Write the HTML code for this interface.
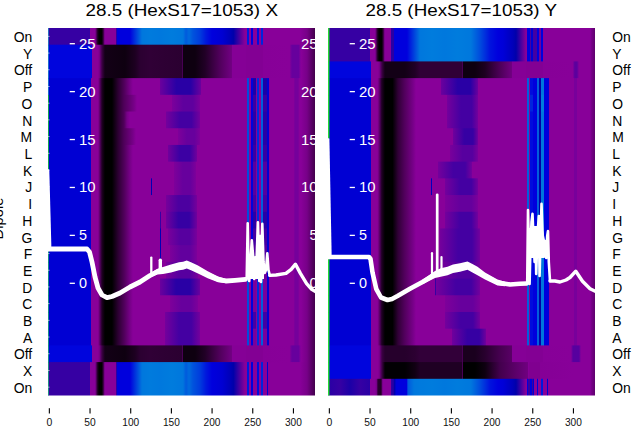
<!DOCTYPE html>
<html><head><meta charset="utf-8"><title>28.5 HexS17</title>
<style>html,body{margin:0;padding:0;background:#fff;overflow:hidden}body{width:640px;height:440px;font-family:"Liberation Sans",sans-serif}</style>
</head><body>
<svg width="640" height="440" viewBox="0 0 640 440" style="display:block;font-family:'Liberation Sans',sans-serif">
<defs><linearGradient id="g1" gradientUnits="userSpaceOnUse" x1="48.25" x2="315.00" y1="0" y2="0"><stop offset="0.0000" stop-color="#3600a3"/><stop offset="0.1554" stop-color="#3600a3"/><stop offset="0.1554" stop-color="#880099"/><stop offset="0.1734" stop-color="#880099"/><stop offset="0.1771" stop-color="#770088"/><stop offset="0.1846" stop-color="#240029"/><stop offset="0.1903" stop-color="#000000"/><stop offset="0.1996" stop-color="#000000"/><stop offset="0.2052" stop-color="#240029"/><stop offset="0.2109" stop-color="#770088"/><stop offset="0.2146" stop-color="#880099"/><stop offset="0.2540" stop-color="#880099"/><stop offset="0.2568" stop-color="#0000aa"/><stop offset="0.2596" stop-color="#0000dd"/><stop offset="0.3065" stop-color="#0000dd"/><stop offset="0.3515" stop-color="#0077dd"/><stop offset="0.3814" stop-color="#007bdd"/><stop offset="0.4189" stop-color="#0078dd"/><stop offset="0.4639" stop-color="#007cdd"/><stop offset="0.5052" stop-color="#0077dd"/><stop offset="0.5164" stop-color="#005add"/><stop offset="0.5276" stop-color="#006bdd"/><stop offset="0.5426" stop-color="#0053dd"/><stop offset="0.5689" stop-color="#003cdd"/><stop offset="0.5914" stop-color="#0018dd"/><stop offset="0.6139" stop-color="#0000dd"/><stop offset="0.6514" stop-color="#0000d3"/><stop offset="0.6813" stop-color="#0000b9"/><stop offset="0.6942" stop-color="#0000aa"/><stop offset="0.7113" stop-color="#3600a3"/><stop offset="0.7376" stop-color="#880099"/><stop offset="0.7440" stop-color="#880099"/><stop offset="0.7440" stop-color="#0018dd"/><stop offset="0.7530" stop-color="#0018dd"/><stop offset="0.7530" stop-color="#880099"/><stop offset="0.7593" stop-color="#880099"/><stop offset="0.7593" stop-color="#0000dd"/><stop offset="0.7661" stop-color="#0000dd"/><stop offset="0.7661" stop-color="#880099"/><stop offset="0.7818" stop-color="#880099"/><stop offset="0.7818" stop-color="#000cdd"/><stop offset="0.7901" stop-color="#000cdd"/><stop offset="0.7901" stop-color="#880099"/><stop offset="0.7961" stop-color="#880099"/><stop offset="0.7961" stop-color="#0024dd"/><stop offset="0.8043" stop-color="#0024dd"/><stop offset="0.8043" stop-color="#880099"/><stop offset="0.9063" stop-color="#880099"/><stop offset="0.9438" stop-color="#880099"/><stop offset="0.9700" stop-color="#770088"/><stop offset="1.0000" stop-color="#43004c"/></linearGradient><linearGradient id="g2" gradientUnits="userSpaceOnUse" x1="48.25" x2="315.00" y1="0" y2="0"><stop offset="0.0000" stop-color="#0005dd"/><stop offset="0.1640" stop-color="#0005dd"/><stop offset="0.1640" stop-color="#880099"/><stop offset="0.1865" stop-color="#880099"/><stop offset="0.1921" stop-color="#770088"/><stop offset="0.2015" stop-color="#3c0044"/><stop offset="0.2127" stop-color="#130016"/><stop offset="0.2877" stop-color="#0e0010"/><stop offset="0.3252" stop-color="#1d0021"/><stop offset="0.3440" stop-color="#2b0031"/><stop offset="0.3814" stop-color="#300036"/><stop offset="0.5003" stop-color="#2b0031"/><stop offset="0.5003" stop-color="#470052"/><stop offset="0.5040" stop-color="#470052"/><stop offset="0.5040" stop-color="#0e0010"/><stop offset="0.5501" stop-color="#0e0010"/><stop offset="0.5876" stop-color="#210026"/><stop offset="0.6439" stop-color="#51005c"/><stop offset="0.6888" stop-color="#720083"/><stop offset="0.6888" stop-color="#850096"/><stop offset="0.7413" stop-color="#850096"/><stop offset="0.7413" stop-color="#830094"/><stop offset="0.8051" stop-color="#830094"/><stop offset="0.8051" stop-color="#870098"/><stop offset="0.9044" stop-color="#880099"/><stop offset="0.9138" stop-color="#67009d"/><stop offset="0.9381" stop-color="#67009d"/><stop offset="0.9475" stop-color="#880099"/><stop offset="0.9700" stop-color="#770088"/><stop offset="1.0000" stop-color="#43004c"/></linearGradient><linearGradient id="g3" gradientUnits="userSpaceOnUse" x1="48.25" x2="315.00" y1="0" y2="0"><stop offset="0.0000" stop-color="#0000d3"/><stop offset="0.1614" stop-color="#0000d3"/><stop offset="0.1614" stop-color="#880099"/><stop offset="0.1858" stop-color="#880099"/><stop offset="0.1895" stop-color="#770088"/><stop offset="0.1951" stop-color="#4c0057"/><stop offset="0.2015" stop-color="#1f0023"/><stop offset="0.2127" stop-color="#000000"/><stop offset="0.2390" stop-color="#000000"/><stop offset="0.2615" stop-color="#2b0031"/><stop offset="0.2840" stop-color="#4f005a"/><stop offset="0.3065" stop-color="#770088"/><stop offset="0.3177" stop-color="#880099"/><stop offset="0.4189" stop-color="#880099"/><stop offset="0.4189" stop-color="#6b009d"/><stop offset="0.4804" stop-color="#2900a5"/><stop offset="0.5342" stop-color="#2900a5"/><stop offset="0.5726" stop-color="#6b009d"/><stop offset="0.5726" stop-color="#880099"/><stop offset="0.7443" stop-color="#880099"/><stop offset="0.7443" stop-color="#004cdd"/><stop offset="0.7511" stop-color="#004cdd"/><stop offset="0.7511" stop-color="#880099"/><stop offset="0.7597" stop-color="#880099"/><stop offset="0.7597" stop-color="#0000dd"/><stop offset="0.7687" stop-color="#0000dd"/><stop offset="0.7687" stop-color="#880099"/><stop offset="0.7687" stop-color="#1b00a7"/><stop offset="0.7781" stop-color="#1b00a7"/><stop offset="0.7781" stop-color="#880099"/><stop offset="0.7829" stop-color="#880099"/><stop offset="0.7829" stop-color="#002bdd"/><stop offset="0.7908" stop-color="#002bdd"/><stop offset="0.7908" stop-color="#880099"/><stop offset="0.7968" stop-color="#880099"/><stop offset="0.7968" stop-color="#005fdd"/><stop offset="0.8062" stop-color="#005fdd"/><stop offset="0.8062" stop-color="#880099"/><stop offset="0.8069" stop-color="#880099"/><stop offset="0.8069" stop-color="#1b00a7"/><stop offset="0.8193" stop-color="#1b00a7"/><stop offset="0.8193" stop-color="#880099"/><stop offset="0.8193" stop-color="#0000d3"/><stop offset="0.8268" stop-color="#0000d3"/><stop offset="0.8268" stop-color="#880099"/><stop offset="0.9194" stop-color="#880099"/><stop offset="0.9250" stop-color="#75009b"/><stop offset="0.9363" stop-color="#75009b"/><stop offset="0.9419" stop-color="#880099"/><stop offset="0.9475" stop-color="#880099"/><stop offset="0.9700" stop-color="#770088"/><stop offset="1.0000" stop-color="#43004c"/></linearGradient><linearGradient id="g4" gradientUnits="userSpaceOnUse" x1="48.25" x2="315.00" y1="0" y2="0"><stop offset="0.0000" stop-color="#0000d3"/><stop offset="0.1614" stop-color="#0000d3"/><stop offset="0.1614" stop-color="#880099"/><stop offset="0.1858" stop-color="#880099"/><stop offset="0.1895" stop-color="#770088"/><stop offset="0.1951" stop-color="#4c0057"/><stop offset="0.2015" stop-color="#1f0023"/><stop offset="0.2127" stop-color="#000000"/><stop offset="0.2390" stop-color="#000000"/><stop offset="0.2615" stop-color="#2b0031"/><stop offset="0.2840" stop-color="#4f005a"/><stop offset="0.3215" stop-color="#770088"/><stop offset="0.3327" stop-color="#880099"/><stop offset="0.4639" stop-color="#880099"/><stop offset="0.4639" stop-color="#7c009b"/><stop offset="0.5059" stop-color="#5f009e"/><stop offset="0.5426" stop-color="#5f009e"/><stop offset="0.5689" stop-color="#7c009b"/><stop offset="0.5689" stop-color="#880099"/><stop offset="0.7443" stop-color="#880099"/><stop offset="0.7443" stop-color="#004cdd"/><stop offset="0.7511" stop-color="#004cdd"/><stop offset="0.7511" stop-color="#880099"/><stop offset="0.7597" stop-color="#880099"/><stop offset="0.7597" stop-color="#0000dd"/><stop offset="0.7687" stop-color="#0000dd"/><stop offset="0.7687" stop-color="#880099"/><stop offset="0.7687" stop-color="#3600a3"/><stop offset="0.7781" stop-color="#3600a3"/><stop offset="0.7781" stop-color="#880099"/><stop offset="0.7829" stop-color="#880099"/><stop offset="0.7829" stop-color="#002bdd"/><stop offset="0.7908" stop-color="#002bdd"/><stop offset="0.7908" stop-color="#880099"/><stop offset="0.7968" stop-color="#880099"/><stop offset="0.7968" stop-color="#005fdd"/><stop offset="0.8062" stop-color="#005fdd"/><stop offset="0.8062" stop-color="#880099"/><stop offset="0.8069" stop-color="#880099"/><stop offset="0.8069" stop-color="#3600a3"/><stop offset="0.8193" stop-color="#3600a3"/><stop offset="0.8193" stop-color="#880099"/><stop offset="0.8193" stop-color="#0000d3"/><stop offset="0.8268" stop-color="#0000d3"/><stop offset="0.8268" stop-color="#880099"/><stop offset="0.9194" stop-color="#880099"/><stop offset="0.9250" stop-color="#75009b"/><stop offset="0.9363" stop-color="#75009b"/><stop offset="0.9419" stop-color="#880099"/><stop offset="0.9475" stop-color="#880099"/><stop offset="0.9700" stop-color="#770088"/><stop offset="1.0000" stop-color="#43004c"/></linearGradient><linearGradient id="g5" gradientUnits="userSpaceOnUse" x1="48.25" x2="315.00" y1="0" y2="0"><stop offset="0.0000" stop-color="#0000d3"/><stop offset="0.1614" stop-color="#0000d3"/><stop offset="0.1614" stop-color="#880099"/><stop offset="0.1858" stop-color="#880099"/><stop offset="0.1895" stop-color="#770088"/><stop offset="0.1951" stop-color="#4c0057"/><stop offset="0.2015" stop-color="#1f0023"/><stop offset="0.2127" stop-color="#000000"/><stop offset="0.2390" stop-color="#000000"/><stop offset="0.2615" stop-color="#2b0031"/><stop offset="0.2840" stop-color="#4f005a"/><stop offset="0.2952" stop-color="#770088"/><stop offset="0.3065" stop-color="#880099"/><stop offset="0.4414" stop-color="#880099"/><stop offset="0.4414" stop-color="#74009c"/><stop offset="0.4924" stop-color="#4400a2"/><stop offset="0.5370" stop-color="#4400a2"/><stop offset="0.5689" stop-color="#74009c"/><stop offset="0.5689" stop-color="#880099"/><stop offset="0.7443" stop-color="#880099"/><stop offset="0.7443" stop-color="#004cdd"/><stop offset="0.7511" stop-color="#004cdd"/><stop offset="0.7511" stop-color="#880099"/><stop offset="0.7597" stop-color="#880099"/><stop offset="0.7597" stop-color="#0000dd"/><stop offset="0.7687" stop-color="#0000dd"/><stop offset="0.7687" stop-color="#880099"/><stop offset="0.7687" stop-color="#2900a5"/><stop offset="0.7781" stop-color="#2900a5"/><stop offset="0.7781" stop-color="#880099"/><stop offset="0.7829" stop-color="#880099"/><stop offset="0.7829" stop-color="#002bdd"/><stop offset="0.7908" stop-color="#002bdd"/><stop offset="0.7908" stop-color="#880099"/><stop offset="0.7968" stop-color="#880099"/><stop offset="0.7968" stop-color="#005fdd"/><stop offset="0.8062" stop-color="#005fdd"/><stop offset="0.8062" stop-color="#880099"/><stop offset="0.8069" stop-color="#880099"/><stop offset="0.8069" stop-color="#2900a5"/><stop offset="0.8193" stop-color="#2900a5"/><stop offset="0.8193" stop-color="#880099"/><stop offset="0.8193" stop-color="#0000d3"/><stop offset="0.8268" stop-color="#0000d3"/><stop offset="0.8268" stop-color="#880099"/><stop offset="0.9194" stop-color="#880099"/><stop offset="0.9250" stop-color="#75009b"/><stop offset="0.9363" stop-color="#75009b"/><stop offset="0.9419" stop-color="#880099"/><stop offset="0.9475" stop-color="#880099"/><stop offset="0.9700" stop-color="#770088"/><stop offset="1.0000" stop-color="#43004c"/></linearGradient><linearGradient id="g6" gradientUnits="userSpaceOnUse" x1="48.25" x2="315.00" y1="0" y2="0"><stop offset="0.0000" stop-color="#0000d3"/><stop offset="0.1614" stop-color="#0000d3"/><stop offset="0.1614" stop-color="#880099"/><stop offset="0.1858" stop-color="#880099"/><stop offset="0.1895" stop-color="#770088"/><stop offset="0.1951" stop-color="#4c0057"/><stop offset="0.2015" stop-color="#1f0023"/><stop offset="0.2127" stop-color="#000000"/><stop offset="0.2390" stop-color="#000000"/><stop offset="0.2615" stop-color="#2b0031"/><stop offset="0.2840" stop-color="#4f005a"/><stop offset="0.3177" stop-color="#770088"/><stop offset="0.3290" stop-color="#880099"/><stop offset="0.4864" stop-color="#880099"/><stop offset="0.4864" stop-color="#7e009a"/><stop offset="0.5194" stop-color="#67009d"/><stop offset="0.5483" stop-color="#67009d"/><stop offset="0.5689" stop-color="#7e009a"/><stop offset="0.5689" stop-color="#880099"/><stop offset="0.7443" stop-color="#880099"/><stop offset="0.7443" stop-color="#004cdd"/><stop offset="0.7511" stop-color="#004cdd"/><stop offset="0.7511" stop-color="#880099"/><stop offset="0.7597" stop-color="#880099"/><stop offset="0.7597" stop-color="#0000dd"/><stop offset="0.7687" stop-color="#0000dd"/><stop offset="0.7687" stop-color="#880099"/><stop offset="0.7687" stop-color="#2900a5"/><stop offset="0.7781" stop-color="#2900a5"/><stop offset="0.7781" stop-color="#880099"/><stop offset="0.7829" stop-color="#880099"/><stop offset="0.7829" stop-color="#002bdd"/><stop offset="0.7908" stop-color="#002bdd"/><stop offset="0.7908" stop-color="#880099"/><stop offset="0.7968" stop-color="#880099"/><stop offset="0.7968" stop-color="#005fdd"/><stop offset="0.8062" stop-color="#005fdd"/><stop offset="0.8062" stop-color="#880099"/><stop offset="0.8069" stop-color="#880099"/><stop offset="0.8069" stop-color="#2900a5"/><stop offset="0.8193" stop-color="#2900a5"/><stop offset="0.8193" stop-color="#880099"/><stop offset="0.8193" stop-color="#0000d3"/><stop offset="0.8268" stop-color="#0000d3"/><stop offset="0.8268" stop-color="#880099"/><stop offset="0.9194" stop-color="#880099"/><stop offset="0.9250" stop-color="#75009b"/><stop offset="0.9363" stop-color="#75009b"/><stop offset="0.9419" stop-color="#880099"/><stop offset="0.9475" stop-color="#880099"/><stop offset="0.9700" stop-color="#770088"/><stop offset="1.0000" stop-color="#43004c"/></linearGradient><linearGradient id="g7" gradientUnits="userSpaceOnUse" x1="48.25" x2="315.00" y1="0" y2="0"><stop offset="0.0000" stop-color="#0000d3"/><stop offset="0.1614" stop-color="#0000d3"/><stop offset="0.1614" stop-color="#880099"/><stop offset="0.1858" stop-color="#880099"/><stop offset="0.1895" stop-color="#770088"/><stop offset="0.1951" stop-color="#4c0057"/><stop offset="0.2015" stop-color="#1f0023"/><stop offset="0.2127" stop-color="#000000"/><stop offset="0.2390" stop-color="#000000"/><stop offset="0.2615" stop-color="#2b0031"/><stop offset="0.2840" stop-color="#4f005a"/><stop offset="0.3065" stop-color="#770088"/><stop offset="0.3177" stop-color="#880099"/><stop offset="0.4489" stop-color="#880099"/><stop offset="0.4489" stop-color="#71009c"/><stop offset="0.4924" stop-color="#3c00a3"/><stop offset="0.5305" stop-color="#3c00a3"/><stop offset="0.5576" stop-color="#71009c"/><stop offset="0.5576" stop-color="#880099"/><stop offset="0.7443" stop-color="#880099"/><stop offset="0.7443" stop-color="#004cdd"/><stop offset="0.7511" stop-color="#004cdd"/><stop offset="0.7511" stop-color="#880099"/><stop offset="0.7597" stop-color="#880099"/><stop offset="0.7597" stop-color="#0000dd"/><stop offset="0.7687" stop-color="#0000dd"/><stop offset="0.7687" stop-color="#880099"/><stop offset="0.7687" stop-color="#3600a3"/><stop offset="0.7781" stop-color="#3600a3"/><stop offset="0.7781" stop-color="#880099"/><stop offset="0.7829" stop-color="#880099"/><stop offset="0.7829" stop-color="#002bdd"/><stop offset="0.7908" stop-color="#002bdd"/><stop offset="0.7908" stop-color="#880099"/><stop offset="0.7968" stop-color="#880099"/><stop offset="0.7968" stop-color="#005fdd"/><stop offset="0.8062" stop-color="#005fdd"/><stop offset="0.8062" stop-color="#880099"/><stop offset="0.8069" stop-color="#880099"/><stop offset="0.8069" stop-color="#3600a3"/><stop offset="0.8193" stop-color="#3600a3"/><stop offset="0.8193" stop-color="#880099"/><stop offset="0.8193" stop-color="#0000d3"/><stop offset="0.8268" stop-color="#0000d3"/><stop offset="0.8268" stop-color="#880099"/><stop offset="0.9194" stop-color="#880099"/><stop offset="0.9250" stop-color="#75009b"/><stop offset="0.9363" stop-color="#75009b"/><stop offset="0.9419" stop-color="#880099"/><stop offset="0.9475" stop-color="#880099"/><stop offset="0.9700" stop-color="#770088"/><stop offset="1.0000" stop-color="#43004c"/></linearGradient><linearGradient id="g8" gradientUnits="userSpaceOnUse" x1="48.25" x2="315.00" y1="0" y2="0"><stop offset="0.0000" stop-color="#0000d3"/><stop offset="0.1614" stop-color="#0000d3"/><stop offset="0.1614" stop-color="#880099"/><stop offset="0.1858" stop-color="#880099"/><stop offset="0.1895" stop-color="#770088"/><stop offset="0.1951" stop-color="#4c0057"/><stop offset="0.2015" stop-color="#1f0023"/><stop offset="0.2127" stop-color="#000000"/><stop offset="0.2390" stop-color="#000000"/><stop offset="0.2615" stop-color="#2b0031"/><stop offset="0.2840" stop-color="#4f005a"/><stop offset="0.3065" stop-color="#770088"/><stop offset="0.3177" stop-color="#880099"/><stop offset="0.4714" stop-color="#880099"/><stop offset="0.4714" stop-color="#7e009a"/><stop offset="0.5044" stop-color="#67009d"/><stop offset="0.5333" stop-color="#67009d"/><stop offset="0.5539" stop-color="#7e009a"/><stop offset="0.5539" stop-color="#880099"/><stop offset="0.7443" stop-color="#880099"/><stop offset="0.7443" stop-color="#004cdd"/><stop offset="0.7511" stop-color="#004cdd"/><stop offset="0.7511" stop-color="#880099"/><stop offset="0.7597" stop-color="#880099"/><stop offset="0.7597" stop-color="#0000dd"/><stop offset="0.7687" stop-color="#0000dd"/><stop offset="0.7687" stop-color="#880099"/><stop offset="0.7687" stop-color="#57009f"/><stop offset="0.7781" stop-color="#57009f"/><stop offset="0.7781" stop-color="#880099"/><stop offset="0.7829" stop-color="#880099"/><stop offset="0.7829" stop-color="#002bdd"/><stop offset="0.7908" stop-color="#002bdd"/><stop offset="0.7908" stop-color="#880099"/><stop offset="0.7968" stop-color="#880099"/><stop offset="0.7968" stop-color="#005fdd"/><stop offset="0.8062" stop-color="#005fdd"/><stop offset="0.8062" stop-color="#880099"/><stop offset="0.8069" stop-color="#880099"/><stop offset="0.8069" stop-color="#57009f"/><stop offset="0.8193" stop-color="#57009f"/><stop offset="0.8193" stop-color="#880099"/><stop offset="0.8193" stop-color="#0000d3"/><stop offset="0.8268" stop-color="#0000d3"/><stop offset="0.8268" stop-color="#880099"/><stop offset="0.9194" stop-color="#880099"/><stop offset="0.9250" stop-color="#75009b"/><stop offset="0.9363" stop-color="#75009b"/><stop offset="0.9419" stop-color="#880099"/><stop offset="0.9475" stop-color="#880099"/><stop offset="0.9700" stop-color="#770088"/><stop offset="1.0000" stop-color="#43004c"/></linearGradient><linearGradient id="g9" gradientUnits="userSpaceOnUse" x1="48.25" x2="315.00" y1="0" y2="0"><stop offset="0.0000" stop-color="#0000d3"/><stop offset="0.1614" stop-color="#0000d3"/><stop offset="0.1614" stop-color="#880099"/><stop offset="0.1858" stop-color="#880099"/><stop offset="0.1895" stop-color="#770088"/><stop offset="0.1951" stop-color="#4c0057"/><stop offset="0.2015" stop-color="#1f0023"/><stop offset="0.2127" stop-color="#000000"/><stop offset="0.2390" stop-color="#000000"/><stop offset="0.2615" stop-color="#2b0031"/><stop offset="0.2840" stop-color="#4f005a"/><stop offset="0.3065" stop-color="#770088"/><stop offset="0.3177" stop-color="#880099"/><stop offset="0.3852" stop-color="#880099"/><stop offset="0.3852" stop-color="#0000b4"/><stop offset="0.3897" stop-color="#0000b4"/><stop offset="0.3897" stop-color="#880099"/><stop offset="0.4714" stop-color="#880099"/><stop offset="0.4714" stop-color="#7e009a"/><stop offset="0.5044" stop-color="#67009d"/><stop offset="0.5333" stop-color="#67009d"/><stop offset="0.5539" stop-color="#7e009a"/><stop offset="0.5539" stop-color="#880099"/><stop offset="0.7443" stop-color="#880099"/><stop offset="0.7443" stop-color="#004cdd"/><stop offset="0.7511" stop-color="#004cdd"/><stop offset="0.7511" stop-color="#880099"/><stop offset="0.7597" stop-color="#880099"/><stop offset="0.7597" stop-color="#0000dd"/><stop offset="0.7687" stop-color="#0000dd"/><stop offset="0.7687" stop-color="#880099"/><stop offset="0.7687" stop-color="#57009f"/><stop offset="0.7781" stop-color="#57009f"/><stop offset="0.7781" stop-color="#880099"/><stop offset="0.7829" stop-color="#880099"/><stop offset="0.7829" stop-color="#002bdd"/><stop offset="0.7908" stop-color="#002bdd"/><stop offset="0.7908" stop-color="#880099"/><stop offset="0.7968" stop-color="#880099"/><stop offset="0.7968" stop-color="#005fdd"/><stop offset="0.8062" stop-color="#005fdd"/><stop offset="0.8062" stop-color="#880099"/><stop offset="0.8069" stop-color="#880099"/><stop offset="0.8069" stop-color="#57009f"/><stop offset="0.8193" stop-color="#57009f"/><stop offset="0.8193" stop-color="#880099"/><stop offset="0.8193" stop-color="#0000d3"/><stop offset="0.8268" stop-color="#0000d3"/><stop offset="0.8268" stop-color="#880099"/><stop offset="0.9194" stop-color="#880099"/><stop offset="0.9250" stop-color="#75009b"/><stop offset="0.9363" stop-color="#75009b"/><stop offset="0.9419" stop-color="#880099"/><stop offset="0.9475" stop-color="#880099"/><stop offset="0.9700" stop-color="#770088"/><stop offset="1.0000" stop-color="#43004c"/></linearGradient><linearGradient id="g10" gradientUnits="userSpaceOnUse" x1="48.25" x2="315.00" y1="0" y2="0"><stop offset="0.0000" stop-color="#0000d3"/><stop offset="0.1614" stop-color="#0000d3"/><stop offset="0.1614" stop-color="#880099"/><stop offset="0.1858" stop-color="#880099"/><stop offset="0.1895" stop-color="#770088"/><stop offset="0.1951" stop-color="#4c0057"/><stop offset="0.2015" stop-color="#1f0023"/><stop offset="0.2127" stop-color="#000000"/><stop offset="0.2390" stop-color="#000000"/><stop offset="0.2615" stop-color="#2b0031"/><stop offset="0.2840" stop-color="#4f005a"/><stop offset="0.3065" stop-color="#770088"/><stop offset="0.3177" stop-color="#880099"/><stop offset="0.4414" stop-color="#880099"/><stop offset="0.4414" stop-color="#76009b"/><stop offset="0.4879" stop-color="#4c00a0"/><stop offset="0.5286" stop-color="#4c00a0"/><stop offset="0.5576" stop-color="#76009b"/><stop offset="0.5576" stop-color="#880099"/><stop offset="0.7443" stop-color="#880099"/><stop offset="0.7443" stop-color="#004cdd"/><stop offset="0.7511" stop-color="#004cdd"/><stop offset="0.7511" stop-color="#880099"/><stop offset="0.7597" stop-color="#880099"/><stop offset="0.7597" stop-color="#0000dd"/><stop offset="0.7687" stop-color="#0000dd"/><stop offset="0.7687" stop-color="#880099"/><stop offset="0.7687" stop-color="#4400a2"/><stop offset="0.7781" stop-color="#4400a2"/><stop offset="0.7781" stop-color="#880099"/><stop offset="0.7829" stop-color="#880099"/><stop offset="0.7829" stop-color="#002bdd"/><stop offset="0.7908" stop-color="#002bdd"/><stop offset="0.7908" stop-color="#880099"/><stop offset="0.7968" stop-color="#880099"/><stop offset="0.7968" stop-color="#005fdd"/><stop offset="0.8062" stop-color="#005fdd"/><stop offset="0.8062" stop-color="#880099"/><stop offset="0.8069" stop-color="#880099"/><stop offset="0.8069" stop-color="#4400a2"/><stop offset="0.8193" stop-color="#4400a2"/><stop offset="0.8193" stop-color="#880099"/><stop offset="0.8193" stop-color="#0000d3"/><stop offset="0.8268" stop-color="#0000d3"/><stop offset="0.8268" stop-color="#880099"/><stop offset="0.9194" stop-color="#880099"/><stop offset="0.9250" stop-color="#75009b"/><stop offset="0.9363" stop-color="#75009b"/><stop offset="0.9419" stop-color="#880099"/><stop offset="0.9475" stop-color="#880099"/><stop offset="0.9700" stop-color="#770088"/><stop offset="1.0000" stop-color="#43004c"/></linearGradient><linearGradient id="g11" gradientUnits="userSpaceOnUse" x1="48.25" x2="315.00" y1="0" y2="0"><stop offset="0.0000" stop-color="#0000d3"/><stop offset="0.1614" stop-color="#0000d3"/><stop offset="0.1614" stop-color="#880099"/><stop offset="0.1858" stop-color="#880099"/><stop offset="0.1895" stop-color="#770088"/><stop offset="0.1951" stop-color="#4c0057"/><stop offset="0.2015" stop-color="#1f0023"/><stop offset="0.2127" stop-color="#000000"/><stop offset="0.2390" stop-color="#000000"/><stop offset="0.2615" stop-color="#2b0031"/><stop offset="0.2840" stop-color="#4f005a"/><stop offset="0.3065" stop-color="#770088"/><stop offset="0.3177" stop-color="#880099"/><stop offset="0.4189" stop-color="#880099"/><stop offset="0.4189" stop-color="#3600a3"/><stop offset="0.4234" stop-color="#3600a3"/><stop offset="0.4234" stop-color="#880099"/><stop offset="0.4414" stop-color="#880099"/><stop offset="0.4414" stop-color="#70009c"/><stop offset="0.4879" stop-color="#3600a3"/><stop offset="0.5286" stop-color="#3600a3"/><stop offset="0.5576" stop-color="#70009c"/><stop offset="0.5576" stop-color="#880099"/><stop offset="0.7443" stop-color="#880099"/><stop offset="0.7443" stop-color="#004cdd"/><stop offset="0.7511" stop-color="#004cdd"/><stop offset="0.7511" stop-color="#880099"/><stop offset="0.7597" stop-color="#880099"/><stop offset="0.7597" stop-color="#0000dd"/><stop offset="0.7687" stop-color="#0000dd"/><stop offset="0.7687" stop-color="#880099"/><stop offset="0.7687" stop-color="#2900a5"/><stop offset="0.7781" stop-color="#2900a5"/><stop offset="0.7781" stop-color="#880099"/><stop offset="0.7829" stop-color="#880099"/><stop offset="0.7829" stop-color="#002bdd"/><stop offset="0.7908" stop-color="#002bdd"/><stop offset="0.7908" stop-color="#880099"/><stop offset="0.7968" stop-color="#880099"/><stop offset="0.7968" stop-color="#005fdd"/><stop offset="0.8062" stop-color="#005fdd"/><stop offset="0.8062" stop-color="#880099"/><stop offset="0.8069" stop-color="#880099"/><stop offset="0.8069" stop-color="#2900a5"/><stop offset="0.8193" stop-color="#2900a5"/><stop offset="0.8193" stop-color="#880099"/><stop offset="0.8193" stop-color="#0000d3"/><stop offset="0.8268" stop-color="#0000d3"/><stop offset="0.8268" stop-color="#880099"/><stop offset="0.9194" stop-color="#880099"/><stop offset="0.9250" stop-color="#75009b"/><stop offset="0.9363" stop-color="#75009b"/><stop offset="0.9419" stop-color="#880099"/><stop offset="0.9475" stop-color="#880099"/><stop offset="0.9700" stop-color="#770088"/><stop offset="1.0000" stop-color="#43004c"/></linearGradient><linearGradient id="g12" gradientUnits="userSpaceOnUse" x1="48.25" x2="315.00" y1="0" y2="0"><stop offset="0.0000" stop-color="#0000d3"/><stop offset="0.1614" stop-color="#0000d3"/><stop offset="0.1614" stop-color="#880099"/><stop offset="0.1858" stop-color="#880099"/><stop offset="0.1895" stop-color="#770088"/><stop offset="0.1951" stop-color="#4c0057"/><stop offset="0.2015" stop-color="#1f0023"/><stop offset="0.2127" stop-color="#000000"/><stop offset="0.2390" stop-color="#000000"/><stop offset="0.2615" stop-color="#2b0031"/><stop offset="0.2840" stop-color="#4f005a"/><stop offset="0.3065" stop-color="#770088"/><stop offset="0.3177" stop-color="#880099"/><stop offset="0.4189" stop-color="#880099"/><stop offset="0.4189" stop-color="#0000b4"/><stop offset="0.4234" stop-color="#0000b4"/><stop offset="0.4234" stop-color="#880099"/><stop offset="0.4489" stop-color="#880099"/><stop offset="0.4489" stop-color="#79009b"/><stop offset="0.4924" stop-color="#57009f"/><stop offset="0.5305" stop-color="#57009f"/><stop offset="0.5576" stop-color="#79009b"/><stop offset="0.5576" stop-color="#880099"/><stop offset="0.7443" stop-color="#880099"/><stop offset="0.7443" stop-color="#004cdd"/><stop offset="0.7511" stop-color="#004cdd"/><stop offset="0.7511" stop-color="#880099"/><stop offset="0.7597" stop-color="#880099"/><stop offset="0.7597" stop-color="#0000dd"/><stop offset="0.7687" stop-color="#0000dd"/><stop offset="0.7687" stop-color="#880099"/><stop offset="0.7687" stop-color="#4400a2"/><stop offset="0.7781" stop-color="#4400a2"/><stop offset="0.7781" stop-color="#880099"/><stop offset="0.7829" stop-color="#880099"/><stop offset="0.7829" stop-color="#002bdd"/><stop offset="0.7908" stop-color="#002bdd"/><stop offset="0.7908" stop-color="#880099"/><stop offset="0.7968" stop-color="#880099"/><stop offset="0.7968" stop-color="#005fdd"/><stop offset="0.8062" stop-color="#005fdd"/><stop offset="0.8062" stop-color="#880099"/><stop offset="0.8069" stop-color="#880099"/><stop offset="0.8069" stop-color="#4400a2"/><stop offset="0.8193" stop-color="#4400a2"/><stop offset="0.8193" stop-color="#880099"/><stop offset="0.8193" stop-color="#0000d3"/><stop offset="0.8268" stop-color="#0000d3"/><stop offset="0.8268" stop-color="#880099"/><stop offset="0.9194" stop-color="#880099"/><stop offset="0.9250" stop-color="#75009b"/><stop offset="0.9363" stop-color="#75009b"/><stop offset="0.9419" stop-color="#880099"/><stop offset="0.9475" stop-color="#880099"/><stop offset="0.9700" stop-color="#770088"/><stop offset="1.0000" stop-color="#43004c"/></linearGradient><linearGradient id="g13" gradientUnits="userSpaceOnUse" x1="48.25" x2="315.00" y1="0" y2="0"><stop offset="0.0000" stop-color="#0000d3"/><stop offset="0.1614" stop-color="#0000d3"/><stop offset="0.1614" stop-color="#880099"/><stop offset="0.1858" stop-color="#880099"/><stop offset="0.1895" stop-color="#770088"/><stop offset="0.1951" stop-color="#4c0057"/><stop offset="0.2015" stop-color="#1f0023"/><stop offset="0.2127" stop-color="#000000"/><stop offset="0.2390" stop-color="#000000"/><stop offset="0.2615" stop-color="#2b0031"/><stop offset="0.2840" stop-color="#4f005a"/><stop offset="0.3065" stop-color="#770088"/><stop offset="0.3177" stop-color="#880099"/><stop offset="0.4189" stop-color="#880099"/><stop offset="0.4189" stop-color="#0000b4"/><stop offset="0.4234" stop-color="#0000b4"/><stop offset="0.4234" stop-color="#880099"/><stop offset="0.4564" stop-color="#880099"/><stop offset="0.4564" stop-color="#7d009a"/><stop offset="0.4969" stop-color="#62009e"/><stop offset="0.5323" stop-color="#62009e"/><stop offset="0.5576" stop-color="#7d009a"/><stop offset="0.5576" stop-color="#880099"/><stop offset="0.7443" stop-color="#880099"/><stop offset="0.7443" stop-color="#004cdd"/><stop offset="0.7511" stop-color="#004cdd"/><stop offset="0.7511" stop-color="#880099"/><stop offset="0.7597" stop-color="#880099"/><stop offset="0.7597" stop-color="#0000dd"/><stop offset="0.7687" stop-color="#0000dd"/><stop offset="0.7687" stop-color="#880099"/><stop offset="0.7687" stop-color="#5200a0"/><stop offset="0.7781" stop-color="#5200a0"/><stop offset="0.7781" stop-color="#880099"/><stop offset="0.7829" stop-color="#880099"/><stop offset="0.7829" stop-color="#002bdd"/><stop offset="0.7908" stop-color="#002bdd"/><stop offset="0.7908" stop-color="#880099"/><stop offset="0.7968" stop-color="#880099"/><stop offset="0.7968" stop-color="#005fdd"/><stop offset="0.8062" stop-color="#005fdd"/><stop offset="0.8062" stop-color="#880099"/><stop offset="0.8069" stop-color="#880099"/><stop offset="0.8069" stop-color="#5200a0"/><stop offset="0.8193" stop-color="#5200a0"/><stop offset="0.8193" stop-color="#880099"/><stop offset="0.8193" stop-color="#0000d3"/><stop offset="0.8268" stop-color="#0000d3"/><stop offset="0.8268" stop-color="#880099"/><stop offset="0.9194" stop-color="#880099"/><stop offset="0.9250" stop-color="#75009b"/><stop offset="0.9363" stop-color="#75009b"/><stop offset="0.9419" stop-color="#880099"/><stop offset="0.9475" stop-color="#880099"/><stop offset="0.9700" stop-color="#770088"/><stop offset="1.0000" stop-color="#43004c"/></linearGradient><linearGradient id="g14" gradientUnits="userSpaceOnUse" x1="48.25" x2="315.00" y1="0" y2="0"><stop offset="0.0000" stop-color="#0000d3"/><stop offset="0.1614" stop-color="#0000d3"/><stop offset="0.1614" stop-color="#880099"/><stop offset="0.1858" stop-color="#880099"/><stop offset="0.1895" stop-color="#770088"/><stop offset="0.1951" stop-color="#4c0057"/><stop offset="0.2015" stop-color="#1f0023"/><stop offset="0.2127" stop-color="#000000"/><stop offset="0.2390" stop-color="#000000"/><stop offset="0.2615" stop-color="#2b0031"/><stop offset="0.2840" stop-color="#4f005a"/><stop offset="0.3065" stop-color="#770088"/><stop offset="0.3177" stop-color="#880099"/><stop offset="0.4414" stop-color="#880099"/><stop offset="0.4414" stop-color="#79009b"/><stop offset="0.4894" stop-color="#57009f"/><stop offset="0.5314" stop-color="#57009f"/><stop offset="0.5614" stop-color="#79009b"/><stop offset="0.5614" stop-color="#880099"/><stop offset="0.7443" stop-color="#880099"/><stop offset="0.7443" stop-color="#004cdd"/><stop offset="0.7511" stop-color="#004cdd"/><stop offset="0.7511" stop-color="#880099"/><stop offset="0.7597" stop-color="#880099"/><stop offset="0.7597" stop-color="#0000dd"/><stop offset="0.7687" stop-color="#0000dd"/><stop offset="0.7687" stop-color="#880099"/><stop offset="0.7687" stop-color="#6d009c"/><stop offset="0.7781" stop-color="#6d009c"/><stop offset="0.7781" stop-color="#880099"/><stop offset="0.7829" stop-color="#880099"/><stop offset="0.7829" stop-color="#002bdd"/><stop offset="0.7908" stop-color="#002bdd"/><stop offset="0.7908" stop-color="#880099"/><stop offset="0.7968" stop-color="#880099"/><stop offset="0.7968" stop-color="#005fdd"/><stop offset="0.8062" stop-color="#005fdd"/><stop offset="0.8062" stop-color="#880099"/><stop offset="0.8069" stop-color="#880099"/><stop offset="0.8069" stop-color="#6d009c"/><stop offset="0.8193" stop-color="#6d009c"/><stop offset="0.8193" stop-color="#880099"/><stop offset="0.8193" stop-color="#0000d3"/><stop offset="0.8268" stop-color="#0000d3"/><stop offset="0.8268" stop-color="#880099"/><stop offset="0.9194" stop-color="#880099"/><stop offset="0.9250" stop-color="#75009b"/><stop offset="0.9363" stop-color="#75009b"/><stop offset="0.9419" stop-color="#880099"/><stop offset="0.9475" stop-color="#880099"/><stop offset="0.9700" stop-color="#770088"/><stop offset="1.0000" stop-color="#43004c"/></linearGradient><linearGradient id="g15" gradientUnits="userSpaceOnUse" x1="48.25" x2="315.00" y1="0" y2="0"><stop offset="0.0000" stop-color="#0000d3"/><stop offset="0.1614" stop-color="#0000d3"/><stop offset="0.1614" stop-color="#880099"/><stop offset="0.1858" stop-color="#880099"/><stop offset="0.1895" stop-color="#770088"/><stop offset="0.1951" stop-color="#4c0057"/><stop offset="0.2015" stop-color="#1f0023"/><stop offset="0.2127" stop-color="#000000"/><stop offset="0.2390" stop-color="#000000"/><stop offset="0.2615" stop-color="#2b0031"/><stop offset="0.2840" stop-color="#4f005a"/><stop offset="0.3065" stop-color="#770088"/><stop offset="0.3177" stop-color="#880099"/><stop offset="0.4189" stop-color="#880099"/><stop offset="0.4189" stop-color="#6b009d"/><stop offset="0.4789" stop-color="#2900a5"/><stop offset="0.5314" stop-color="#2900a5"/><stop offset="0.5689" stop-color="#6b009d"/><stop offset="0.5689" stop-color="#880099"/><stop offset="0.7443" stop-color="#880099"/><stop offset="0.7443" stop-color="#004cdd"/><stop offset="0.7511" stop-color="#004cdd"/><stop offset="0.7511" stop-color="#880099"/><stop offset="0.7597" stop-color="#880099"/><stop offset="0.7597" stop-color="#0000dd"/><stop offset="0.7687" stop-color="#0000dd"/><stop offset="0.7687" stop-color="#880099"/><stop offset="0.7687" stop-color="#7a009b"/><stop offset="0.7781" stop-color="#7a009b"/><stop offset="0.7781" stop-color="#880099"/><stop offset="0.7829" stop-color="#880099"/><stop offset="0.7829" stop-color="#002bdd"/><stop offset="0.7908" stop-color="#002bdd"/><stop offset="0.7908" stop-color="#880099"/><stop offset="0.7968" stop-color="#880099"/><stop offset="0.7968" stop-color="#005fdd"/><stop offset="0.8062" stop-color="#005fdd"/><stop offset="0.8062" stop-color="#880099"/><stop offset="0.8069" stop-color="#880099"/><stop offset="0.8069" stop-color="#7a009b"/><stop offset="0.8193" stop-color="#7a009b"/><stop offset="0.8193" stop-color="#880099"/><stop offset="0.8193" stop-color="#0000d3"/><stop offset="0.8268" stop-color="#0000d3"/><stop offset="0.8268" stop-color="#880099"/><stop offset="0.9194" stop-color="#880099"/><stop offset="0.9250" stop-color="#75009b"/><stop offset="0.9363" stop-color="#75009b"/><stop offset="0.9419" stop-color="#880099"/><stop offset="0.9475" stop-color="#880099"/><stop offset="0.9700" stop-color="#770088"/><stop offset="1.0000" stop-color="#43004c"/></linearGradient><linearGradient id="g16" gradientUnits="userSpaceOnUse" x1="48.25" x2="315.00" y1="0" y2="0"><stop offset="0.0000" stop-color="#0000d3"/><stop offset="0.1614" stop-color="#0000d3"/><stop offset="0.1614" stop-color="#880099"/><stop offset="0.1858" stop-color="#880099"/><stop offset="0.1895" stop-color="#770088"/><stop offset="0.1951" stop-color="#4c0057"/><stop offset="0.2015" stop-color="#1f0023"/><stop offset="0.2127" stop-color="#000000"/><stop offset="0.2390" stop-color="#000000"/><stop offset="0.2615" stop-color="#2b0031"/><stop offset="0.2840" stop-color="#4f005a"/><stop offset="0.3065" stop-color="#770088"/><stop offset="0.3177" stop-color="#880099"/><stop offset="0.4564" stop-color="#880099"/><stop offset="0.4564" stop-color="#7e009a"/><stop offset="0.4984" stop-color="#67009d"/><stop offset="0.5351" stop-color="#67009d"/><stop offset="0.5614" stop-color="#7e009a"/><stop offset="0.5614" stop-color="#880099"/><stop offset="0.7443" stop-color="#880099"/><stop offset="0.7443" stop-color="#004cdd"/><stop offset="0.7511" stop-color="#004cdd"/><stop offset="0.7511" stop-color="#880099"/><stop offset="0.7597" stop-color="#880099"/><stop offset="0.7597" stop-color="#0000dd"/><stop offset="0.7687" stop-color="#0000dd"/><stop offset="0.7687" stop-color="#880099"/><stop offset="0.7687" stop-color="#7a009b"/><stop offset="0.7781" stop-color="#7a009b"/><stop offset="0.7781" stop-color="#880099"/><stop offset="0.7829" stop-color="#880099"/><stop offset="0.7829" stop-color="#002bdd"/><stop offset="0.7908" stop-color="#002bdd"/><stop offset="0.7908" stop-color="#880099"/><stop offset="0.7968" stop-color="#880099"/><stop offset="0.7968" stop-color="#005fdd"/><stop offset="0.8062" stop-color="#005fdd"/><stop offset="0.8062" stop-color="#880099"/><stop offset="0.8069" stop-color="#880099"/><stop offset="0.8069" stop-color="#7a009b"/><stop offset="0.8193" stop-color="#7a009b"/><stop offset="0.8193" stop-color="#880099"/><stop offset="0.8193" stop-color="#0000d3"/><stop offset="0.8268" stop-color="#0000d3"/><stop offset="0.8268" stop-color="#880099"/><stop offset="0.9194" stop-color="#880099"/><stop offset="0.9250" stop-color="#75009b"/><stop offset="0.9363" stop-color="#75009b"/><stop offset="0.9419" stop-color="#880099"/><stop offset="0.9475" stop-color="#880099"/><stop offset="0.9700" stop-color="#770088"/><stop offset="1.0000" stop-color="#43004c"/></linearGradient><linearGradient id="g17" gradientUnits="userSpaceOnUse" x1="48.25" x2="315.00" y1="0" y2="0"><stop offset="0.0000" stop-color="#0000d3"/><stop offset="0.1614" stop-color="#0000d3"/><stop offset="0.1614" stop-color="#880099"/><stop offset="0.1858" stop-color="#880099"/><stop offset="0.1895" stop-color="#770088"/><stop offset="0.1951" stop-color="#4c0057"/><stop offset="0.2015" stop-color="#1f0023"/><stop offset="0.2127" stop-color="#000000"/><stop offset="0.2390" stop-color="#000000"/><stop offset="0.2615" stop-color="#2b0031"/><stop offset="0.2840" stop-color="#4f005a"/><stop offset="0.3065" stop-color="#770088"/><stop offset="0.3177" stop-color="#880099"/><stop offset="0.4377" stop-color="#880099"/><stop offset="0.4377" stop-color="#74009c"/><stop offset="0.4902" stop-color="#4400a2"/><stop offset="0.5361" stop-color="#4400a2"/><stop offset="0.5689" stop-color="#74009c"/><stop offset="0.5689" stop-color="#880099"/><stop offset="0.7443" stop-color="#880099"/><stop offset="0.7443" stop-color="#004cdd"/><stop offset="0.7511" stop-color="#004cdd"/><stop offset="0.7511" stop-color="#880099"/><stop offset="0.7597" stop-color="#880099"/><stop offset="0.7597" stop-color="#0000dd"/><stop offset="0.7687" stop-color="#0000dd"/><stop offset="0.7687" stop-color="#880099"/><stop offset="0.7687" stop-color="#4400a2"/><stop offset="0.7781" stop-color="#4400a2"/><stop offset="0.7781" stop-color="#880099"/><stop offset="0.7829" stop-color="#880099"/><stop offset="0.7829" stop-color="#002bdd"/><stop offset="0.7908" stop-color="#002bdd"/><stop offset="0.7908" stop-color="#880099"/><stop offset="0.7968" stop-color="#880099"/><stop offset="0.7968" stop-color="#005fdd"/><stop offset="0.8062" stop-color="#005fdd"/><stop offset="0.8062" stop-color="#880099"/><stop offset="0.8069" stop-color="#880099"/><stop offset="0.8069" stop-color="#4400a2"/><stop offset="0.8193" stop-color="#4400a2"/><stop offset="0.8193" stop-color="#880099"/><stop offset="0.8193" stop-color="#0000d3"/><stop offset="0.8268" stop-color="#0000d3"/><stop offset="0.8268" stop-color="#880099"/><stop offset="0.9194" stop-color="#880099"/><stop offset="0.9250" stop-color="#75009b"/><stop offset="0.9363" stop-color="#75009b"/><stop offset="0.9419" stop-color="#880099"/><stop offset="0.9475" stop-color="#880099"/><stop offset="0.9700" stop-color="#770088"/><stop offset="1.0000" stop-color="#43004c"/></linearGradient><linearGradient id="g18" gradientUnits="userSpaceOnUse" x1="48.25" x2="315.00" y1="0" y2="0"><stop offset="0.0000" stop-color="#0000d3"/><stop offset="0.1614" stop-color="#0000d3"/><stop offset="0.1614" stop-color="#880099"/><stop offset="0.1858" stop-color="#880099"/><stop offset="0.1895" stop-color="#770088"/><stop offset="0.1951" stop-color="#4c0057"/><stop offset="0.2015" stop-color="#1f0023"/><stop offset="0.2127" stop-color="#000000"/><stop offset="0.2390" stop-color="#000000"/><stop offset="0.2615" stop-color="#2b0031"/><stop offset="0.2840" stop-color="#4f005a"/><stop offset="0.3065" stop-color="#770088"/><stop offset="0.3177" stop-color="#880099"/><stop offset="0.4377" stop-color="#880099"/><stop offset="0.4377" stop-color="#74009c"/><stop offset="0.4902" stop-color="#4400a2"/><stop offset="0.5361" stop-color="#4400a2"/><stop offset="0.5689" stop-color="#74009c"/><stop offset="0.5689" stop-color="#880099"/><stop offset="0.7443" stop-color="#880099"/><stop offset="0.7443" stop-color="#004cdd"/><stop offset="0.7511" stop-color="#004cdd"/><stop offset="0.7511" stop-color="#880099"/><stop offset="0.7597" stop-color="#880099"/><stop offset="0.7597" stop-color="#0000dd"/><stop offset="0.7687" stop-color="#0000dd"/><stop offset="0.7687" stop-color="#880099"/><stop offset="0.7687" stop-color="#7a009b"/><stop offset="0.7781" stop-color="#7a009b"/><stop offset="0.7781" stop-color="#880099"/><stop offset="0.7829" stop-color="#880099"/><stop offset="0.7829" stop-color="#002bdd"/><stop offset="0.7908" stop-color="#002bdd"/><stop offset="0.7908" stop-color="#880099"/><stop offset="0.7968" stop-color="#880099"/><stop offset="0.7968" stop-color="#005fdd"/><stop offset="0.8062" stop-color="#005fdd"/><stop offset="0.8062" stop-color="#880099"/><stop offset="0.8069" stop-color="#880099"/><stop offset="0.8069" stop-color="#7a009b"/><stop offset="0.8193" stop-color="#7a009b"/><stop offset="0.8193" stop-color="#880099"/><stop offset="0.8193" stop-color="#0000d3"/><stop offset="0.8268" stop-color="#0000d3"/><stop offset="0.8268" stop-color="#880099"/><stop offset="0.9194" stop-color="#880099"/><stop offset="0.9250" stop-color="#75009b"/><stop offset="0.9363" stop-color="#75009b"/><stop offset="0.9419" stop-color="#880099"/><stop offset="0.9475" stop-color="#880099"/><stop offset="0.9700" stop-color="#770088"/><stop offset="1.0000" stop-color="#43004c"/></linearGradient><linearGradient id="g19" gradientUnits="userSpaceOnUse" x1="48.25" x2="315.00" y1="0" y2="0"><stop offset="0.0000" stop-color="#0005dd"/><stop offset="0.1640" stop-color="#0005dd"/><stop offset="0.1640" stop-color="#880099"/><stop offset="0.1865" stop-color="#880099"/><stop offset="0.1921" stop-color="#770088"/><stop offset="0.2015" stop-color="#3c0044"/><stop offset="0.2127" stop-color="#130016"/><stop offset="0.2877" stop-color="#0e0010"/><stop offset="0.3252" stop-color="#1d0021"/><stop offset="0.3440" stop-color="#2b0031"/><stop offset="0.3814" stop-color="#300036"/><stop offset="0.5003" stop-color="#2b0031"/><stop offset="0.5003" stop-color="#470052"/><stop offset="0.5040" stop-color="#470052"/><stop offset="0.5040" stop-color="#0e0010"/><stop offset="0.5501" stop-color="#0e0010"/><stop offset="0.5876" stop-color="#210026"/><stop offset="0.6439" stop-color="#51005c"/><stop offset="0.6888" stop-color="#720083"/><stop offset="0.6888" stop-color="#850096"/><stop offset="0.7413" stop-color="#850096"/><stop offset="0.7413" stop-color="#830094"/><stop offset="0.8051" stop-color="#830094"/><stop offset="0.8051" stop-color="#870098"/><stop offset="0.9044" stop-color="#880099"/><stop offset="0.9138" stop-color="#67009d"/><stop offset="0.9381" stop-color="#67009d"/><stop offset="0.9475" stop-color="#880099"/><stop offset="0.9700" stop-color="#770088"/><stop offset="1.0000" stop-color="#43004c"/></linearGradient><linearGradient id="g20" gradientUnits="userSpaceOnUse" x1="48.25" x2="315.00" y1="0" y2="0"><stop offset="0.0000" stop-color="#3600a3"/><stop offset="0.1554" stop-color="#3600a3"/><stop offset="0.1554" stop-color="#880099"/><stop offset="0.1734" stop-color="#880099"/><stop offset="0.1771" stop-color="#770088"/><stop offset="0.1846" stop-color="#240029"/><stop offset="0.1903" stop-color="#000000"/><stop offset="0.1996" stop-color="#000000"/><stop offset="0.2052" stop-color="#240029"/><stop offset="0.2109" stop-color="#770088"/><stop offset="0.2146" stop-color="#880099"/><stop offset="0.2540" stop-color="#880099"/><stop offset="0.2568" stop-color="#0000aa"/><stop offset="0.2596" stop-color="#0000dd"/><stop offset="0.3065" stop-color="#0000dd"/><stop offset="0.3515" stop-color="#0077dd"/><stop offset="0.3814" stop-color="#007bdd"/><stop offset="0.4189" stop-color="#0078dd"/><stop offset="0.4639" stop-color="#007cdd"/><stop offset="0.5052" stop-color="#0077dd"/><stop offset="0.5164" stop-color="#005add"/><stop offset="0.5276" stop-color="#006bdd"/><stop offset="0.5426" stop-color="#0053dd"/><stop offset="0.5689" stop-color="#003cdd"/><stop offset="0.5914" stop-color="#0018dd"/><stop offset="0.6139" stop-color="#0000dd"/><stop offset="0.6514" stop-color="#0000d3"/><stop offset="0.6813" stop-color="#0000b9"/><stop offset="0.6942" stop-color="#0000aa"/><stop offset="0.7113" stop-color="#3600a3"/><stop offset="0.7376" stop-color="#880099"/><stop offset="0.7440" stop-color="#880099"/><stop offset="0.7440" stop-color="#0018dd"/><stop offset="0.7530" stop-color="#0018dd"/><stop offset="0.7530" stop-color="#880099"/><stop offset="0.7593" stop-color="#880099"/><stop offset="0.7593" stop-color="#0000dd"/><stop offset="0.7661" stop-color="#0000dd"/><stop offset="0.7661" stop-color="#880099"/><stop offset="0.7818" stop-color="#880099"/><stop offset="0.7818" stop-color="#000cdd"/><stop offset="0.7901" stop-color="#000cdd"/><stop offset="0.7901" stop-color="#880099"/><stop offset="0.7961" stop-color="#880099"/><stop offset="0.7961" stop-color="#0024dd"/><stop offset="0.8043" stop-color="#0024dd"/><stop offset="0.8043" stop-color="#880099"/><stop offset="0.8193" stop-color="#880099"/><stop offset="0.8193" stop-color="#0000d3"/><stop offset="0.8249" stop-color="#0000d3"/><stop offset="0.8249" stop-color="#880099"/><stop offset="0.9063" stop-color="#880099"/><stop offset="0.9438" stop-color="#880099"/><stop offset="0.9700" stop-color="#770088"/><stop offset="1.0000" stop-color="#43004c"/></linearGradient><linearGradient id="g21" gradientUnits="userSpaceOnUse" x1="328.25" x2="595.00" y1="0" y2="0"><stop offset="0.0000" stop-color="#3600a3"/><stop offset="0.1565" stop-color="#3600a3"/><stop offset="0.1565" stop-color="#880099"/><stop offset="0.1734" stop-color="#880099"/><stop offset="0.1771" stop-color="#770088"/><stop offset="0.1846" stop-color="#240029"/><stop offset="0.1903" stop-color="#000000"/><stop offset="0.1996" stop-color="#000000"/><stop offset="0.2052" stop-color="#240029"/><stop offset="0.2109" stop-color="#770088"/><stop offset="0.2146" stop-color="#880099"/><stop offset="0.2352" stop-color="#880099"/><stop offset="0.2352" stop-color="#2900a5"/><stop offset="0.2446" stop-color="#2900a5"/><stop offset="0.2450" stop-color="#0000aa"/><stop offset="0.2465" stop-color="#0000dd"/><stop offset="0.2952" stop-color="#0000dd"/><stop offset="0.3440" stop-color="#0077dd"/><stop offset="0.3889" stop-color="#007cdd"/><stop offset="0.4377" stop-color="#0078dd"/><stop offset="0.4864" stop-color="#007cdd"/><stop offset="0.5314" stop-color="#0078dd"/><stop offset="0.5351" stop-color="#0077dd"/><stop offset="0.5689" stop-color="#004cdd"/><stop offset="0.6064" stop-color="#0013dd"/><stop offset="0.6364" stop-color="#0000dd"/><stop offset="0.6551" stop-color="#0000d8"/><stop offset="0.6926" stop-color="#0000b9"/><stop offset="0.7038" stop-color="#0000aa"/><stop offset="0.7226" stop-color="#4400a2"/><stop offset="0.7413" stop-color="#880099"/><stop offset="0.7447" stop-color="#880099"/><stop offset="0.7447" stop-color="#0000dd"/><stop offset="0.7545" stop-color="#0000dd"/><stop offset="0.7545" stop-color="#880099"/><stop offset="0.7545" stop-color="#4400a2"/><stop offset="0.7597" stop-color="#4400a2"/><stop offset="0.7597" stop-color="#880099"/><stop offset="0.7597" stop-color="#0000d3"/><stop offset="0.7691" stop-color="#0000d3"/><stop offset="0.7691" stop-color="#880099"/><stop offset="0.7691" stop-color="#4400a2"/><stop offset="0.7822" stop-color="#4400a2"/><stop offset="0.7822" stop-color="#880099"/><stop offset="0.7822" stop-color="#0000dd"/><stop offset="0.7904" stop-color="#0000dd"/><stop offset="0.7904" stop-color="#880099"/><stop offset="0.7904" stop-color="#6d009c"/><stop offset="0.7968" stop-color="#6d009c"/><stop offset="0.7968" stop-color="#880099"/><stop offset="0.7968" stop-color="#0000dd"/><stop offset="0.8069" stop-color="#0000dd"/><stop offset="0.8069" stop-color="#880099"/><stop offset="0.9063" stop-color="#880099"/><stop offset="0.9813" stop-color="#880099"/><stop offset="0.9869" stop-color="#770088"/><stop offset="1.0000" stop-color="#5f006d"/></linearGradient><linearGradient id="g22" gradientUnits="userSpaceOnUse" x1="328.25" x2="595.00" y1="0" y2="0"><stop offset="0.0000" stop-color="#0005dd"/><stop offset="0.1621" stop-color="#0005dd"/><stop offset="0.1621" stop-color="#880099"/><stop offset="0.1865" stop-color="#880099"/><stop offset="0.1921" stop-color="#770088"/><stop offset="0.2015" stop-color="#3c0044"/><stop offset="0.2127" stop-color="#130016"/><stop offset="0.2877" stop-color="#130016"/><stop offset="0.3252" stop-color="#210026"/><stop offset="0.3440" stop-color="#300036"/><stop offset="0.3814" stop-color="#300036"/><stop offset="0.5003" stop-color="#300036"/><stop offset="0.5003" stop-color="#470052"/><stop offset="0.5040" stop-color="#470052"/><stop offset="0.5040" stop-color="#0e0010"/><stop offset="0.5501" stop-color="#0e0010"/><stop offset="0.5876" stop-color="#1d0021"/><stop offset="0.6439" stop-color="#4d0058"/><stop offset="0.6907" stop-color="#720083"/><stop offset="0.6907" stop-color="#850096"/><stop offset="0.7413" stop-color="#850096"/><stop offset="0.7413" stop-color="#830094"/><stop offset="0.8051" stop-color="#830094"/><stop offset="0.8051" stop-color="#870098"/><stop offset="0.9166" stop-color="#880099"/><stop offset="0.9241" stop-color="#5c009e"/><stop offset="0.9325" stop-color="#5c009e"/><stop offset="0.9400" stop-color="#880099"/><stop offset="0.9813" stop-color="#880099"/><stop offset="0.9869" stop-color="#770088"/><stop offset="1.0000" stop-color="#5f006d"/></linearGradient><linearGradient id="g23" gradientUnits="userSpaceOnUse" x1="328.25" x2="595.00" y1="0" y2="0"><stop offset="0.0000" stop-color="#0000d3"/><stop offset="0.1614" stop-color="#0000d3"/><stop offset="0.1614" stop-color="#880099"/><stop offset="0.1839" stop-color="#880099"/><stop offset="0.1876" stop-color="#770088"/><stop offset="0.1933" stop-color="#53005f"/><stop offset="0.2004" stop-color="#210026"/><stop offset="0.2127" stop-color="#000000"/><stop offset="0.2409" stop-color="#000000"/><stop offset="0.2615" stop-color="#300036"/><stop offset="0.2858" stop-color="#51005c"/><stop offset="0.3177" stop-color="#770088"/><stop offset="0.3290" stop-color="#880099"/><stop offset="0.4212" stop-color="#880099"/><stop offset="0.4212" stop-color="#0000be"/><stop offset="0.4216" stop-color="#0000aa"/><stop offset="0.4227" stop-color="#880099"/><stop offset="0.4227" stop-color="#6b009d"/><stop offset="0.4851" stop-color="#2900a5"/><stop offset="0.5336" stop-color="#2900a5"/><stop offset="0.5614" stop-color="#6b009d"/><stop offset="0.5614" stop-color="#880099"/><stop offset="0.7443" stop-color="#880099"/><stop offset="0.7443" stop-color="#005fdd"/><stop offset="0.7522" stop-color="#005fdd"/><stop offset="0.7522" stop-color="#880099"/><stop offset="0.7582" stop-color="#880099"/><stop offset="0.7582" stop-color="#000cdd"/><stop offset="0.7694" stop-color="#000cdd"/><stop offset="0.7694" stop-color="#880099"/><stop offset="0.7694" stop-color="#0000dd"/><stop offset="0.7822" stop-color="#0000dd"/><stop offset="0.7822" stop-color="#880099"/><stop offset="0.7822" stop-color="#0000b4"/><stop offset="0.7841" stop-color="#0000b4"/><stop offset="0.7841" stop-color="#880099"/><stop offset="0.7841" stop-color="#005fdd"/><stop offset="0.7908" stop-color="#005fdd"/><stop offset="0.7908" stop-color="#880099"/><stop offset="0.7908" stop-color="#0000aa"/><stop offset="0.7968" stop-color="#0000aa"/><stop offset="0.7968" stop-color="#880099"/><stop offset="0.7968" stop-color="#0077dd"/><stop offset="0.8073" stop-color="#0077dd"/><stop offset="0.8073" stop-color="#880099"/><stop offset="0.8073" stop-color="#0000dd"/><stop offset="0.8276" stop-color="#0000dd"/><stop offset="0.8276" stop-color="#880099"/><stop offset="0.9194" stop-color="#880099"/><stop offset="0.9231" stop-color="#78009b"/><stop offset="0.9306" stop-color="#78009b"/><stop offset="0.9344" stop-color="#880099"/><stop offset="0.9813" stop-color="#880099"/><stop offset="0.9869" stop-color="#770088"/><stop offset="1.0000" stop-color="#5f006d"/></linearGradient><linearGradient id="g24" gradientUnits="userSpaceOnUse" x1="328.25" x2="595.00" y1="0" y2="0"><stop offset="0.0000" stop-color="#0000d3"/><stop offset="0.1614" stop-color="#0000d3"/><stop offset="0.1614" stop-color="#880099"/><stop offset="0.1839" stop-color="#880099"/><stop offset="0.1876" stop-color="#770088"/><stop offset="0.1933" stop-color="#53005f"/><stop offset="0.2004" stop-color="#210026"/><stop offset="0.2127" stop-color="#000000"/><stop offset="0.2409" stop-color="#000000"/><stop offset="0.2615" stop-color="#300036"/><stop offset="0.2858" stop-color="#51005c"/><stop offset="0.3177" stop-color="#770088"/><stop offset="0.3290" stop-color="#880099"/><stop offset="0.4452" stop-color="#880099"/><stop offset="0.4452" stop-color="#74009c"/><stop offset="0.4975" stop-color="#4400a2"/><stop offset="0.5381" stop-color="#4400a2"/><stop offset="0.5614" stop-color="#74009c"/><stop offset="0.5614" stop-color="#880099"/><stop offset="0.7443" stop-color="#880099"/><stop offset="0.7443" stop-color="#005fdd"/><stop offset="0.7522" stop-color="#005fdd"/><stop offset="0.7522" stop-color="#880099"/><stop offset="0.7582" stop-color="#880099"/><stop offset="0.7582" stop-color="#0024dd"/><stop offset="0.7694" stop-color="#0024dd"/><stop offset="0.7694" stop-color="#880099"/><stop offset="0.7694" stop-color="#0000dd"/><stop offset="0.7822" stop-color="#0000dd"/><stop offset="0.7822" stop-color="#880099"/><stop offset="0.7822" stop-color="#0000b4"/><stop offset="0.7841" stop-color="#0000b4"/><stop offset="0.7841" stop-color="#880099"/><stop offset="0.7841" stop-color="#005fdd"/><stop offset="0.7908" stop-color="#005fdd"/><stop offset="0.7908" stop-color="#880099"/><stop offset="0.7908" stop-color="#0000aa"/><stop offset="0.7968" stop-color="#0000aa"/><stop offset="0.7968" stop-color="#880099"/><stop offset="0.7968" stop-color="#007edd"/><stop offset="0.8073" stop-color="#007edd"/><stop offset="0.8073" stop-color="#880099"/><stop offset="0.8073" stop-color="#0000dd"/><stop offset="0.8276" stop-color="#0000dd"/><stop offset="0.8276" stop-color="#880099"/><stop offset="0.9194" stop-color="#880099"/><stop offset="0.9231" stop-color="#78009b"/><stop offset="0.9306" stop-color="#78009b"/><stop offset="0.9344" stop-color="#880099"/><stop offset="0.9813" stop-color="#880099"/><stop offset="0.9869" stop-color="#770088"/><stop offset="1.0000" stop-color="#5f006d"/></linearGradient><linearGradient id="g25" gradientUnits="userSpaceOnUse" x1="328.25" x2="595.00" y1="0" y2="0"><stop offset="0.0000" stop-color="#0000d3"/><stop offset="0.1614" stop-color="#0000d3"/><stop offset="0.1614" stop-color="#880099"/><stop offset="0.1839" stop-color="#880099"/><stop offset="0.1876" stop-color="#770088"/><stop offset="0.1933" stop-color="#53005f"/><stop offset="0.2004" stop-color="#210026"/><stop offset="0.2127" stop-color="#000000"/><stop offset="0.2409" stop-color="#000000"/><stop offset="0.2615" stop-color="#300036"/><stop offset="0.2858" stop-color="#51005c"/><stop offset="0.3177" stop-color="#770088"/><stop offset="0.3290" stop-color="#880099"/><stop offset="0.4452" stop-color="#880099"/><stop offset="0.4452" stop-color="#74009c"/><stop offset="0.4975" stop-color="#4400a2"/><stop offset="0.5381" stop-color="#4400a2"/><stop offset="0.5614" stop-color="#74009c"/><stop offset="0.5614" stop-color="#880099"/><stop offset="0.7443" stop-color="#880099"/><stop offset="0.7443" stop-color="#005fdd"/><stop offset="0.7522" stop-color="#005fdd"/><stop offset="0.7522" stop-color="#880099"/><stop offset="0.7582" stop-color="#880099"/><stop offset="0.7582" stop-color="#000cdd"/><stop offset="0.7694" stop-color="#000cdd"/><stop offset="0.7694" stop-color="#880099"/><stop offset="0.7694" stop-color="#0000dd"/><stop offset="0.7822" stop-color="#0000dd"/><stop offset="0.7822" stop-color="#880099"/><stop offset="0.7822" stop-color="#0000b4"/><stop offset="0.7841" stop-color="#0000b4"/><stop offset="0.7841" stop-color="#880099"/><stop offset="0.7841" stop-color="#005fdd"/><stop offset="0.7908" stop-color="#005fdd"/><stop offset="0.7908" stop-color="#880099"/><stop offset="0.7908" stop-color="#0000aa"/><stop offset="0.7968" stop-color="#0000aa"/><stop offset="0.7968" stop-color="#880099"/><stop offset="0.7968" stop-color="#0077dd"/><stop offset="0.8073" stop-color="#0077dd"/><stop offset="0.8073" stop-color="#880099"/><stop offset="0.8073" stop-color="#0000dd"/><stop offset="0.8276" stop-color="#0000dd"/><stop offset="0.8276" stop-color="#880099"/><stop offset="0.9194" stop-color="#880099"/><stop offset="0.9231" stop-color="#78009b"/><stop offset="0.9306" stop-color="#78009b"/><stop offset="0.9344" stop-color="#880099"/><stop offset="0.9813" stop-color="#880099"/><stop offset="0.9869" stop-color="#770088"/><stop offset="1.0000" stop-color="#5f006d"/></linearGradient><linearGradient id="g26" gradientUnits="userSpaceOnUse" x1="328.25" x2="595.00" y1="0" y2="0"><stop offset="0.0000" stop-color="#0000d3"/><stop offset="0.1614" stop-color="#0000d3"/><stop offset="0.1614" stop-color="#880099"/><stop offset="0.1839" stop-color="#880099"/><stop offset="0.1876" stop-color="#770088"/><stop offset="0.1933" stop-color="#53005f"/><stop offset="0.2004" stop-color="#210026"/><stop offset="0.2127" stop-color="#000000"/><stop offset="0.2409" stop-color="#000000"/><stop offset="0.2615" stop-color="#300036"/><stop offset="0.2858" stop-color="#51005c"/><stop offset="0.3177" stop-color="#770088"/><stop offset="0.3290" stop-color="#880099"/><stop offset="0.4677" stop-color="#880099"/><stop offset="0.4677" stop-color="#70009c"/><stop offset="0.5098" stop-color="#3600a3"/><stop offset="0.5426" stop-color="#3600a3"/><stop offset="0.5614" stop-color="#70009c"/><stop offset="0.5614" stop-color="#880099"/><stop offset="0.7443" stop-color="#880099"/><stop offset="0.7443" stop-color="#005fdd"/><stop offset="0.7522" stop-color="#005fdd"/><stop offset="0.7522" stop-color="#880099"/><stop offset="0.7582" stop-color="#880099"/><stop offset="0.7582" stop-color="#000cdd"/><stop offset="0.7694" stop-color="#000cdd"/><stop offset="0.7694" stop-color="#880099"/><stop offset="0.7694" stop-color="#0000dd"/><stop offset="0.7822" stop-color="#0000dd"/><stop offset="0.7822" stop-color="#880099"/><stop offset="0.7822" stop-color="#0000b4"/><stop offset="0.7841" stop-color="#0000b4"/><stop offset="0.7841" stop-color="#880099"/><stop offset="0.7841" stop-color="#005fdd"/><stop offset="0.7908" stop-color="#005fdd"/><stop offset="0.7908" stop-color="#880099"/><stop offset="0.7908" stop-color="#0000aa"/><stop offset="0.7968" stop-color="#0000aa"/><stop offset="0.7968" stop-color="#880099"/><stop offset="0.7968" stop-color="#0077dd"/><stop offset="0.8073" stop-color="#0077dd"/><stop offset="0.8073" stop-color="#880099"/><stop offset="0.8073" stop-color="#0000dd"/><stop offset="0.8276" stop-color="#0000dd"/><stop offset="0.8276" stop-color="#880099"/><stop offset="0.9194" stop-color="#880099"/><stop offset="0.9231" stop-color="#78009b"/><stop offset="0.9306" stop-color="#78009b"/><stop offset="0.9344" stop-color="#880099"/><stop offset="0.9813" stop-color="#880099"/><stop offset="0.9869" stop-color="#770088"/><stop offset="1.0000" stop-color="#5f006d"/></linearGradient><linearGradient id="g27" gradientUnits="userSpaceOnUse" x1="328.25" x2="595.00" y1="0" y2="0"><stop offset="0.0000" stop-color="#0000d3"/><stop offset="0.1614" stop-color="#0000d3"/><stop offset="0.1614" stop-color="#880099"/><stop offset="0.1839" stop-color="#880099"/><stop offset="0.1876" stop-color="#770088"/><stop offset="0.1933" stop-color="#53005f"/><stop offset="0.2004" stop-color="#210026"/><stop offset="0.2127" stop-color="#000000"/><stop offset="0.2409" stop-color="#000000"/><stop offset="0.2615" stop-color="#300036"/><stop offset="0.2858" stop-color="#51005c"/><stop offset="0.3177" stop-color="#770088"/><stop offset="0.3290" stop-color="#880099"/><stop offset="0.4564" stop-color="#880099"/><stop offset="0.4564" stop-color="#79009b"/><stop offset="0.5037" stop-color="#57009f"/><stop offset="0.5404" stop-color="#57009f"/><stop offset="0.5614" stop-color="#79009b"/><stop offset="0.5614" stop-color="#880099"/><stop offset="0.7443" stop-color="#880099"/><stop offset="0.7443" stop-color="#005fdd"/><stop offset="0.7522" stop-color="#005fdd"/><stop offset="0.7522" stop-color="#880099"/><stop offset="0.7582" stop-color="#880099"/><stop offset="0.7582" stop-color="#000cdd"/><stop offset="0.7694" stop-color="#000cdd"/><stop offset="0.7694" stop-color="#880099"/><stop offset="0.7694" stop-color="#0000dd"/><stop offset="0.7822" stop-color="#0000dd"/><stop offset="0.7822" stop-color="#880099"/><stop offset="0.7822" stop-color="#0000b4"/><stop offset="0.7841" stop-color="#0000b4"/><stop offset="0.7841" stop-color="#880099"/><stop offset="0.7841" stop-color="#005fdd"/><stop offset="0.7908" stop-color="#005fdd"/><stop offset="0.7908" stop-color="#880099"/><stop offset="0.7908" stop-color="#0000aa"/><stop offset="0.7968" stop-color="#0000aa"/><stop offset="0.7968" stop-color="#880099"/><stop offset="0.7968" stop-color="#0077dd"/><stop offset="0.8073" stop-color="#0077dd"/><stop offset="0.8073" stop-color="#880099"/><stop offset="0.8073" stop-color="#0000dd"/><stop offset="0.8276" stop-color="#0000dd"/><stop offset="0.8276" stop-color="#880099"/><stop offset="0.9194" stop-color="#880099"/><stop offset="0.9231" stop-color="#78009b"/><stop offset="0.9306" stop-color="#78009b"/><stop offset="0.9344" stop-color="#880099"/><stop offset="0.9813" stop-color="#880099"/><stop offset="0.9869" stop-color="#770088"/><stop offset="1.0000" stop-color="#5f006d"/></linearGradient><linearGradient id="g28" gradientUnits="userSpaceOnUse" x1="328.25" x2="595.00" y1="0" y2="0"><stop offset="0.0000" stop-color="#0000d3"/><stop offset="0.1614" stop-color="#0000d3"/><stop offset="0.1614" stop-color="#880099"/><stop offset="0.1839" stop-color="#880099"/><stop offset="0.1876" stop-color="#770088"/><stop offset="0.1933" stop-color="#53005f"/><stop offset="0.2004" stop-color="#210026"/><stop offset="0.2127" stop-color="#000000"/><stop offset="0.2409" stop-color="#000000"/><stop offset="0.2615" stop-color="#300036"/><stop offset="0.2858" stop-color="#51005c"/><stop offset="0.3177" stop-color="#770088"/><stop offset="0.3290" stop-color="#880099"/><stop offset="0.4114" stop-color="#880099"/><stop offset="0.4114" stop-color="#74009c"/><stop offset="0.4688" stop-color="#4400a2"/><stop offset="0.5134" stop-color="#4400a2"/><stop offset="0.5389" stop-color="#74009c"/><stop offset="0.5389" stop-color="#880099"/><stop offset="0.7443" stop-color="#880099"/><stop offset="0.7443" stop-color="#005fdd"/><stop offset="0.7522" stop-color="#005fdd"/><stop offset="0.7522" stop-color="#880099"/><stop offset="0.7582" stop-color="#880099"/><stop offset="0.7582" stop-color="#000cdd"/><stop offset="0.7694" stop-color="#000cdd"/><stop offset="0.7694" stop-color="#880099"/><stop offset="0.7694" stop-color="#0000dd"/><stop offset="0.7822" stop-color="#0000dd"/><stop offset="0.7822" stop-color="#880099"/><stop offset="0.7822" stop-color="#0000b4"/><stop offset="0.7841" stop-color="#0000b4"/><stop offset="0.7841" stop-color="#880099"/><stop offset="0.7841" stop-color="#005fdd"/><stop offset="0.7908" stop-color="#005fdd"/><stop offset="0.7908" stop-color="#880099"/><stop offset="0.7908" stop-color="#0000aa"/><stop offset="0.7968" stop-color="#0000aa"/><stop offset="0.7968" stop-color="#880099"/><stop offset="0.7968" stop-color="#0077dd"/><stop offset="0.8073" stop-color="#0077dd"/><stop offset="0.8073" stop-color="#880099"/><stop offset="0.8073" stop-color="#0000dd"/><stop offset="0.8276" stop-color="#0000dd"/><stop offset="0.8276" stop-color="#880099"/><stop offset="0.9194" stop-color="#880099"/><stop offset="0.9231" stop-color="#78009b"/><stop offset="0.9306" stop-color="#78009b"/><stop offset="0.9344" stop-color="#880099"/><stop offset="0.9813" stop-color="#880099"/><stop offset="0.9869" stop-color="#770088"/><stop offset="1.0000" stop-color="#5f006d"/></linearGradient><linearGradient id="g29" gradientUnits="userSpaceOnUse" x1="328.25" x2="595.00" y1="0" y2="0"><stop offset="0.0000" stop-color="#0000d3"/><stop offset="0.1614" stop-color="#0000d3"/><stop offset="0.1614" stop-color="#880099"/><stop offset="0.1839" stop-color="#880099"/><stop offset="0.1876" stop-color="#770088"/><stop offset="0.1933" stop-color="#53005f"/><stop offset="0.2004" stop-color="#210026"/><stop offset="0.2127" stop-color="#000000"/><stop offset="0.2409" stop-color="#000000"/><stop offset="0.2615" stop-color="#300036"/><stop offset="0.2858" stop-color="#51005c"/><stop offset="0.3177" stop-color="#770088"/><stop offset="0.3290" stop-color="#880099"/><stop offset="0.3859" stop-color="#880099"/><stop offset="0.3859" stop-color="#0000be"/><stop offset="0.3904" stop-color="#0000be"/><stop offset="0.3904" stop-color="#880099"/><stop offset="0.4377" stop-color="#880099"/><stop offset="0.4377" stop-color="#74009c"/><stop offset="0.4933" stop-color="#4400a2"/><stop offset="0.5366" stop-color="#4400a2"/><stop offset="0.5614" stop-color="#74009c"/><stop offset="0.5614" stop-color="#880099"/><stop offset="0.7443" stop-color="#880099"/><stop offset="0.7443" stop-color="#005fdd"/><stop offset="0.7522" stop-color="#005fdd"/><stop offset="0.7522" stop-color="#880099"/><stop offset="0.7582" stop-color="#880099"/><stop offset="0.7582" stop-color="#000cdd"/><stop offset="0.7694" stop-color="#000cdd"/><stop offset="0.7694" stop-color="#880099"/><stop offset="0.7694" stop-color="#0000dd"/><stop offset="0.7822" stop-color="#0000dd"/><stop offset="0.7822" stop-color="#880099"/><stop offset="0.7822" stop-color="#0000b4"/><stop offset="0.7841" stop-color="#0000b4"/><stop offset="0.7841" stop-color="#880099"/><stop offset="0.7841" stop-color="#005fdd"/><stop offset="0.7908" stop-color="#005fdd"/><stop offset="0.7908" stop-color="#880099"/><stop offset="0.7908" stop-color="#0000aa"/><stop offset="0.7968" stop-color="#0000aa"/><stop offset="0.7968" stop-color="#880099"/><stop offset="0.7968" stop-color="#0077dd"/><stop offset="0.8073" stop-color="#0077dd"/><stop offset="0.8073" stop-color="#880099"/><stop offset="0.8073" stop-color="#0000dd"/><stop offset="0.8276" stop-color="#0000dd"/><stop offset="0.8276" stop-color="#880099"/><stop offset="0.9194" stop-color="#880099"/><stop offset="0.9231" stop-color="#78009b"/><stop offset="0.9306" stop-color="#78009b"/><stop offset="0.9344" stop-color="#880099"/><stop offset="0.9813" stop-color="#880099"/><stop offset="0.9869" stop-color="#770088"/><stop offset="1.0000" stop-color="#5f006d"/></linearGradient><linearGradient id="g30" gradientUnits="userSpaceOnUse" x1="328.25" x2="595.00" y1="0" y2="0"><stop offset="0.0000" stop-color="#0000d3"/><stop offset="0.1614" stop-color="#0000d3"/><stop offset="0.1614" stop-color="#880099"/><stop offset="0.1839" stop-color="#880099"/><stop offset="0.1876" stop-color="#770088"/><stop offset="0.1933" stop-color="#53005f"/><stop offset="0.2004" stop-color="#210026"/><stop offset="0.2127" stop-color="#000000"/><stop offset="0.2409" stop-color="#000000"/><stop offset="0.2615" stop-color="#300036"/><stop offset="0.2858" stop-color="#51005c"/><stop offset="0.3177" stop-color="#770088"/><stop offset="0.3290" stop-color="#880099"/><stop offset="0.4377" stop-color="#880099"/><stop offset="0.4377" stop-color="#7d009a"/><stop offset="0.4933" stop-color="#65009d"/><stop offset="0.5366" stop-color="#65009d"/><stop offset="0.5614" stop-color="#7d009a"/><stop offset="0.5614" stop-color="#880099"/><stop offset="0.7443" stop-color="#880099"/><stop offset="0.7443" stop-color="#005fdd"/><stop offset="0.7522" stop-color="#005fdd"/><stop offset="0.7522" stop-color="#880099"/><stop offset="0.7582" stop-color="#880099"/><stop offset="0.7582" stop-color="#000cdd"/><stop offset="0.7694" stop-color="#000cdd"/><stop offset="0.7694" stop-color="#880099"/><stop offset="0.7694" stop-color="#0000dd"/><stop offset="0.7822" stop-color="#0000dd"/><stop offset="0.7822" stop-color="#880099"/><stop offset="0.7822" stop-color="#0000b4"/><stop offset="0.7841" stop-color="#0000b4"/><stop offset="0.7841" stop-color="#880099"/><stop offset="0.7841" stop-color="#005fdd"/><stop offset="0.7908" stop-color="#005fdd"/><stop offset="0.7908" stop-color="#880099"/><stop offset="0.7908" stop-color="#0000aa"/><stop offset="0.7968" stop-color="#0000aa"/><stop offset="0.7968" stop-color="#880099"/><stop offset="0.7968" stop-color="#0077dd"/><stop offset="0.8073" stop-color="#0077dd"/><stop offset="0.8073" stop-color="#880099"/><stop offset="0.8073" stop-color="#0000dd"/><stop offset="0.8276" stop-color="#0000dd"/><stop offset="0.8276" stop-color="#880099"/><stop offset="0.9194" stop-color="#880099"/><stop offset="0.9231" stop-color="#78009b"/><stop offset="0.9306" stop-color="#78009b"/><stop offset="0.9344" stop-color="#880099"/><stop offset="0.9813" stop-color="#880099"/><stop offset="0.9869" stop-color="#770088"/><stop offset="1.0000" stop-color="#5f006d"/></linearGradient><linearGradient id="g31" gradientUnits="userSpaceOnUse" x1="328.25" x2="595.00" y1="0" y2="0"><stop offset="0.0000" stop-color="#0000d3"/><stop offset="0.1614" stop-color="#0000d3"/><stop offset="0.1614" stop-color="#880099"/><stop offset="0.1839" stop-color="#880099"/><stop offset="0.1876" stop-color="#770088"/><stop offset="0.1933" stop-color="#53005f"/><stop offset="0.2004" stop-color="#210026"/><stop offset="0.2127" stop-color="#000000"/><stop offset="0.2409" stop-color="#000000"/><stop offset="0.2615" stop-color="#300036"/><stop offset="0.2858" stop-color="#51005c"/><stop offset="0.3177" stop-color="#770088"/><stop offset="0.3290" stop-color="#880099"/><stop offset="0.4377" stop-color="#880099"/><stop offset="0.4377" stop-color="#74009c"/><stop offset="0.4933" stop-color="#4400a2"/><stop offset="0.5366" stop-color="#4400a2"/><stop offset="0.5614" stop-color="#74009c"/><stop offset="0.5614" stop-color="#880099"/><stop offset="0.7443" stop-color="#880099"/><stop offset="0.7443" stop-color="#005fdd"/><stop offset="0.7522" stop-color="#005fdd"/><stop offset="0.7522" stop-color="#880099"/><stop offset="0.7582" stop-color="#880099"/><stop offset="0.7582" stop-color="#000cdd"/><stop offset="0.7694" stop-color="#000cdd"/><stop offset="0.7694" stop-color="#880099"/><stop offset="0.7694" stop-color="#0000dd"/><stop offset="0.7822" stop-color="#0000dd"/><stop offset="0.7822" stop-color="#880099"/><stop offset="0.7822" stop-color="#0000b4"/><stop offset="0.7841" stop-color="#0000b4"/><stop offset="0.7841" stop-color="#880099"/><stop offset="0.7841" stop-color="#005fdd"/><stop offset="0.7908" stop-color="#005fdd"/><stop offset="0.7908" stop-color="#880099"/><stop offset="0.7908" stop-color="#0000aa"/><stop offset="0.7968" stop-color="#0000aa"/><stop offset="0.7968" stop-color="#880099"/><stop offset="0.7968" stop-color="#0077dd"/><stop offset="0.8073" stop-color="#0077dd"/><stop offset="0.8073" stop-color="#880099"/><stop offset="0.8073" stop-color="#0000dd"/><stop offset="0.8276" stop-color="#0000dd"/><stop offset="0.8276" stop-color="#880099"/><stop offset="0.9194" stop-color="#880099"/><stop offset="0.9231" stop-color="#78009b"/><stop offset="0.9306" stop-color="#78009b"/><stop offset="0.9344" stop-color="#880099"/><stop offset="0.9813" stop-color="#880099"/><stop offset="0.9869" stop-color="#770088"/><stop offset="1.0000" stop-color="#5f006d"/></linearGradient><linearGradient id="g32" gradientUnits="userSpaceOnUse" x1="328.25" x2="595.00" y1="0" y2="0"><stop offset="0.0000" stop-color="#0000d3"/><stop offset="0.1614" stop-color="#0000d3"/><stop offset="0.1614" stop-color="#880099"/><stop offset="0.1839" stop-color="#880099"/><stop offset="0.1876" stop-color="#770088"/><stop offset="0.1933" stop-color="#53005f"/><stop offset="0.2004" stop-color="#210026"/><stop offset="0.2127" stop-color="#000000"/><stop offset="0.2409" stop-color="#000000"/><stop offset="0.2615" stop-color="#300036"/><stop offset="0.2858" stop-color="#51005c"/><stop offset="0.3177" stop-color="#770088"/><stop offset="0.3290" stop-color="#880099"/><stop offset="0.4189" stop-color="#880099"/><stop offset="0.4189" stop-color="#74009c"/><stop offset="0.4864" stop-color="#4400a2"/><stop offset="0.5389" stop-color="#4400a2"/><stop offset="0.5689" stop-color="#74009c"/><stop offset="0.5689" stop-color="#880099"/><stop offset="0.7443" stop-color="#880099"/><stop offset="0.7443" stop-color="#005fdd"/><stop offset="0.7522" stop-color="#005fdd"/><stop offset="0.7522" stop-color="#880099"/><stop offset="0.7582" stop-color="#880099"/><stop offset="0.7582" stop-color="#000cdd"/><stop offset="0.7694" stop-color="#000cdd"/><stop offset="0.7694" stop-color="#880099"/><stop offset="0.7694" stop-color="#0000dd"/><stop offset="0.7822" stop-color="#0000dd"/><stop offset="0.7822" stop-color="#880099"/><stop offset="0.7822" stop-color="#0000b4"/><stop offset="0.7841" stop-color="#0000b4"/><stop offset="0.7841" stop-color="#880099"/><stop offset="0.7841" stop-color="#005fdd"/><stop offset="0.7908" stop-color="#005fdd"/><stop offset="0.7908" stop-color="#880099"/><stop offset="0.7908" stop-color="#0000aa"/><stop offset="0.7968" stop-color="#0000aa"/><stop offset="0.7968" stop-color="#880099"/><stop offset="0.7968" stop-color="#0077dd"/><stop offset="0.8073" stop-color="#0077dd"/><stop offset="0.8073" stop-color="#880099"/><stop offset="0.8073" stop-color="#0000dd"/><stop offset="0.8276" stop-color="#0000dd"/><stop offset="0.8276" stop-color="#880099"/><stop offset="0.9194" stop-color="#880099"/><stop offset="0.9231" stop-color="#78009b"/><stop offset="0.9306" stop-color="#78009b"/><stop offset="0.9344" stop-color="#880099"/><stop offset="0.9813" stop-color="#880099"/><stop offset="0.9869" stop-color="#770088"/><stop offset="1.0000" stop-color="#5f006d"/></linearGradient><linearGradient id="g33" gradientUnits="userSpaceOnUse" x1="328.25" x2="595.00" y1="0" y2="0"><stop offset="0.0000" stop-color="#0000d3"/><stop offset="0.1614" stop-color="#0000d3"/><stop offset="0.1614" stop-color="#880099"/><stop offset="0.1839" stop-color="#880099"/><stop offset="0.1876" stop-color="#770088"/><stop offset="0.1933" stop-color="#53005f"/><stop offset="0.2004" stop-color="#210026"/><stop offset="0.2127" stop-color="#000000"/><stop offset="0.2409" stop-color="#000000"/><stop offset="0.2615" stop-color="#300036"/><stop offset="0.2858" stop-color="#51005c"/><stop offset="0.3177" stop-color="#770088"/><stop offset="0.3290" stop-color="#880099"/><stop offset="0.4189" stop-color="#880099"/><stop offset="0.4189" stop-color="#74009c"/><stop offset="0.4864" stop-color="#4400a2"/><stop offset="0.5389" stop-color="#4400a2"/><stop offset="0.5689" stop-color="#74009c"/><stop offset="0.5689" stop-color="#880099"/><stop offset="0.7443" stop-color="#880099"/><stop offset="0.7443" stop-color="#005fdd"/><stop offset="0.7522" stop-color="#005fdd"/><stop offset="0.7522" stop-color="#880099"/><stop offset="0.7582" stop-color="#880099"/><stop offset="0.7582" stop-color="#000cdd"/><stop offset="0.7694" stop-color="#000cdd"/><stop offset="0.7694" stop-color="#880099"/><stop offset="0.7694" stop-color="#0000dd"/><stop offset="0.7822" stop-color="#0000dd"/><stop offset="0.7822" stop-color="#880099"/><stop offset="0.7822" stop-color="#0000b4"/><stop offset="0.7841" stop-color="#0000b4"/><stop offset="0.7841" stop-color="#880099"/><stop offset="0.7841" stop-color="#005fdd"/><stop offset="0.7908" stop-color="#005fdd"/><stop offset="0.7908" stop-color="#880099"/><stop offset="0.7908" stop-color="#0000aa"/><stop offset="0.7968" stop-color="#0000aa"/><stop offset="0.7968" stop-color="#880099"/><stop offset="0.7968" stop-color="#0077dd"/><stop offset="0.8073" stop-color="#0077dd"/><stop offset="0.8073" stop-color="#880099"/><stop offset="0.8073" stop-color="#0000dd"/><stop offset="0.8276" stop-color="#0000dd"/><stop offset="0.8276" stop-color="#880099"/><stop offset="0.9194" stop-color="#880099"/><stop offset="0.9231" stop-color="#78009b"/><stop offset="0.9306" stop-color="#78009b"/><stop offset="0.9344" stop-color="#880099"/><stop offset="0.9813" stop-color="#880099"/><stop offset="0.9869" stop-color="#770088"/><stop offset="1.0000" stop-color="#5f006d"/></linearGradient><linearGradient id="g34" gradientUnits="userSpaceOnUse" x1="328.25" x2="595.00" y1="0" y2="0"><stop offset="0.0000" stop-color="#0000d3"/><stop offset="0.1614" stop-color="#0000d3"/><stop offset="0.1614" stop-color="#880099"/><stop offset="0.1839" stop-color="#880099"/><stop offset="0.1876" stop-color="#770088"/><stop offset="0.1933" stop-color="#53005f"/><stop offset="0.2004" stop-color="#210026"/><stop offset="0.2127" stop-color="#000000"/><stop offset="0.2409" stop-color="#000000"/><stop offset="0.2615" stop-color="#300036"/><stop offset="0.2858" stop-color="#51005c"/><stop offset="0.3177" stop-color="#770088"/><stop offset="0.3290" stop-color="#880099"/><stop offset="0.4189" stop-color="#880099"/><stop offset="0.4189" stop-color="#78009b"/><stop offset="0.4864" stop-color="#5200a0"/><stop offset="0.5389" stop-color="#5200a0"/><stop offset="0.5689" stop-color="#78009b"/><stop offset="0.5689" stop-color="#880099"/><stop offset="0.7443" stop-color="#880099"/><stop offset="0.7443" stop-color="#005fdd"/><stop offset="0.7522" stop-color="#005fdd"/><stop offset="0.7522" stop-color="#880099"/><stop offset="0.7582" stop-color="#880099"/><stop offset="0.7582" stop-color="#000cdd"/><stop offset="0.7694" stop-color="#000cdd"/><stop offset="0.7694" stop-color="#880099"/><stop offset="0.7694" stop-color="#0000dd"/><stop offset="0.7822" stop-color="#0000dd"/><stop offset="0.7822" stop-color="#880099"/><stop offset="0.7822" stop-color="#0000b4"/><stop offset="0.7841" stop-color="#0000b4"/><stop offset="0.7841" stop-color="#880099"/><stop offset="0.7841" stop-color="#005fdd"/><stop offset="0.7908" stop-color="#005fdd"/><stop offset="0.7908" stop-color="#880099"/><stop offset="0.7908" stop-color="#0000aa"/><stop offset="0.7968" stop-color="#0000aa"/><stop offset="0.7968" stop-color="#880099"/><stop offset="0.7968" stop-color="#0077dd"/><stop offset="0.8073" stop-color="#0077dd"/><stop offset="0.8073" stop-color="#880099"/><stop offset="0.8073" stop-color="#0000dd"/><stop offset="0.8276" stop-color="#0000dd"/><stop offset="0.8276" stop-color="#880099"/><stop offset="0.9194" stop-color="#880099"/><stop offset="0.9231" stop-color="#78009b"/><stop offset="0.9306" stop-color="#78009b"/><stop offset="0.9344" stop-color="#880099"/><stop offset="0.9813" stop-color="#880099"/><stop offset="0.9869" stop-color="#770088"/><stop offset="1.0000" stop-color="#5f006d"/></linearGradient><linearGradient id="g35" gradientUnits="userSpaceOnUse" x1="328.25" x2="595.00" y1="0" y2="0"><stop offset="0.0000" stop-color="#0000d3"/><stop offset="0.1614" stop-color="#0000d3"/><stop offset="0.1614" stop-color="#880099"/><stop offset="0.1839" stop-color="#880099"/><stop offset="0.1876" stop-color="#770088"/><stop offset="0.1933" stop-color="#53005f"/><stop offset="0.2004" stop-color="#210026"/><stop offset="0.2127" stop-color="#000000"/><stop offset="0.2409" stop-color="#000000"/><stop offset="0.2615" stop-color="#300036"/><stop offset="0.2858" stop-color="#51005c"/><stop offset="0.3177" stop-color="#770088"/><stop offset="0.3290" stop-color="#880099"/><stop offset="0.4002" stop-color="#880099"/><stop offset="0.4002" stop-color="#0000b4"/><stop offset="0.4008" stop-color="#0000aa"/><stop offset="0.4039" stop-color="#880099"/><stop offset="0.4039" stop-color="#74009c"/><stop offset="0.4782" stop-color="#4400a2"/><stop offset="0.5359" stop-color="#4400a2"/><stop offset="0.5689" stop-color="#74009c"/><stop offset="0.5689" stop-color="#880099"/><stop offset="0.7443" stop-color="#880099"/><stop offset="0.7443" stop-color="#005fdd"/><stop offset="0.7522" stop-color="#005fdd"/><stop offset="0.7522" stop-color="#880099"/><stop offset="0.7582" stop-color="#880099"/><stop offset="0.7582" stop-color="#000cdd"/><stop offset="0.7694" stop-color="#000cdd"/><stop offset="0.7694" stop-color="#880099"/><stop offset="0.7694" stop-color="#0000dd"/><stop offset="0.7822" stop-color="#0000dd"/><stop offset="0.7822" stop-color="#880099"/><stop offset="0.7822" stop-color="#0000b4"/><stop offset="0.7841" stop-color="#0000b4"/><stop offset="0.7841" stop-color="#880099"/><stop offset="0.7841" stop-color="#005fdd"/><stop offset="0.7908" stop-color="#005fdd"/><stop offset="0.7908" stop-color="#880099"/><stop offset="0.7908" stop-color="#0000aa"/><stop offset="0.7968" stop-color="#0000aa"/><stop offset="0.7968" stop-color="#880099"/><stop offset="0.7968" stop-color="#0077dd"/><stop offset="0.8073" stop-color="#0077dd"/><stop offset="0.8073" stop-color="#880099"/><stop offset="0.8073" stop-color="#0000dd"/><stop offset="0.8276" stop-color="#0000dd"/><stop offset="0.8276" stop-color="#880099"/><stop offset="0.9194" stop-color="#880099"/><stop offset="0.9231" stop-color="#78009b"/><stop offset="0.9306" stop-color="#78009b"/><stop offset="0.9344" stop-color="#880099"/><stop offset="0.9813" stop-color="#880099"/><stop offset="0.9869" stop-color="#770088"/><stop offset="1.0000" stop-color="#5f006d"/></linearGradient><linearGradient id="g36" gradientUnits="userSpaceOnUse" x1="328.25" x2="595.00" y1="0" y2="0"><stop offset="0.0000" stop-color="#0000d3"/><stop offset="0.1614" stop-color="#0000d3"/><stop offset="0.1614" stop-color="#880099"/><stop offset="0.1839" stop-color="#880099"/><stop offset="0.1876" stop-color="#770088"/><stop offset="0.1933" stop-color="#53005f"/><stop offset="0.2004" stop-color="#210026"/><stop offset="0.2127" stop-color="#000000"/><stop offset="0.2409" stop-color="#000000"/><stop offset="0.2615" stop-color="#300036"/><stop offset="0.2858" stop-color="#51005c"/><stop offset="0.3177" stop-color="#770088"/><stop offset="0.3290" stop-color="#880099"/><stop offset="0.4377" stop-color="#880099"/><stop offset="0.4377" stop-color="#7e009a"/><stop offset="0.4967" stop-color="#67009d"/><stop offset="0.5426" stop-color="#67009d"/><stop offset="0.5689" stop-color="#7e009a"/><stop offset="0.5689" stop-color="#880099"/><stop offset="0.7443" stop-color="#880099"/><stop offset="0.7443" stop-color="#005fdd"/><stop offset="0.7522" stop-color="#005fdd"/><stop offset="0.7522" stop-color="#880099"/><stop offset="0.7582" stop-color="#880099"/><stop offset="0.7582" stop-color="#000cdd"/><stop offset="0.7694" stop-color="#000cdd"/><stop offset="0.7694" stop-color="#880099"/><stop offset="0.7694" stop-color="#0000dd"/><stop offset="0.7822" stop-color="#0000dd"/><stop offset="0.7822" stop-color="#880099"/><stop offset="0.7822" stop-color="#0000b4"/><stop offset="0.7841" stop-color="#0000b4"/><stop offset="0.7841" stop-color="#880099"/><stop offset="0.7841" stop-color="#005fdd"/><stop offset="0.7908" stop-color="#005fdd"/><stop offset="0.7908" stop-color="#880099"/><stop offset="0.7908" stop-color="#0000aa"/><stop offset="0.7968" stop-color="#0000aa"/><stop offset="0.7968" stop-color="#880099"/><stop offset="0.7968" stop-color="#0077dd"/><stop offset="0.8073" stop-color="#0077dd"/><stop offset="0.8073" stop-color="#880099"/><stop offset="0.8073" stop-color="#0000dd"/><stop offset="0.8276" stop-color="#0000dd"/><stop offset="0.8276" stop-color="#880099"/><stop offset="0.9194" stop-color="#880099"/><stop offset="0.9231" stop-color="#78009b"/><stop offset="0.9306" stop-color="#78009b"/><stop offset="0.9344" stop-color="#880099"/><stop offset="0.9813" stop-color="#880099"/><stop offset="0.9869" stop-color="#770088"/><stop offset="1.0000" stop-color="#5f006d"/></linearGradient><linearGradient id="g37" gradientUnits="userSpaceOnUse" x1="328.25" x2="595.00" y1="0" y2="0"><stop offset="0.0000" stop-color="#0000d3"/><stop offset="0.1614" stop-color="#0000d3"/><stop offset="0.1614" stop-color="#880099"/><stop offset="0.1839" stop-color="#880099"/><stop offset="0.1876" stop-color="#770088"/><stop offset="0.1933" stop-color="#53005f"/><stop offset="0.2004" stop-color="#210026"/><stop offset="0.2127" stop-color="#000000"/><stop offset="0.2409" stop-color="#000000"/><stop offset="0.2615" stop-color="#300036"/><stop offset="0.2858" stop-color="#51005c"/><stop offset="0.3177" stop-color="#770088"/><stop offset="0.3290" stop-color="#880099"/><stop offset="0.4377" stop-color="#880099"/><stop offset="0.4377" stop-color="#74009c"/><stop offset="0.4967" stop-color="#4400a2"/><stop offset="0.5426" stop-color="#4400a2"/><stop offset="0.5689" stop-color="#74009c"/><stop offset="0.5689" stop-color="#880099"/><stop offset="0.7443" stop-color="#880099"/><stop offset="0.7443" stop-color="#005fdd"/><stop offset="0.7522" stop-color="#005fdd"/><stop offset="0.7522" stop-color="#880099"/><stop offset="0.7582" stop-color="#880099"/><stop offset="0.7582" stop-color="#000cdd"/><stop offset="0.7694" stop-color="#000cdd"/><stop offset="0.7694" stop-color="#880099"/><stop offset="0.7694" stop-color="#0000dd"/><stop offset="0.7822" stop-color="#0000dd"/><stop offset="0.7822" stop-color="#880099"/><stop offset="0.7822" stop-color="#0000b4"/><stop offset="0.7841" stop-color="#0000b4"/><stop offset="0.7841" stop-color="#880099"/><stop offset="0.7841" stop-color="#005fdd"/><stop offset="0.7908" stop-color="#005fdd"/><stop offset="0.7908" stop-color="#880099"/><stop offset="0.7908" stop-color="#0000aa"/><stop offset="0.7968" stop-color="#0000aa"/><stop offset="0.7968" stop-color="#880099"/><stop offset="0.7968" stop-color="#0077dd"/><stop offset="0.8073" stop-color="#0077dd"/><stop offset="0.8073" stop-color="#880099"/><stop offset="0.8073" stop-color="#0000dd"/><stop offset="0.8276" stop-color="#0000dd"/><stop offset="0.8276" stop-color="#880099"/><stop offset="0.9194" stop-color="#880099"/><stop offset="0.9231" stop-color="#78009b"/><stop offset="0.9306" stop-color="#78009b"/><stop offset="0.9344" stop-color="#880099"/><stop offset="0.9813" stop-color="#880099"/><stop offset="0.9869" stop-color="#770088"/><stop offset="1.0000" stop-color="#5f006d"/></linearGradient><linearGradient id="g38" gradientUnits="userSpaceOnUse" x1="328.25" x2="595.00" y1="0" y2="0"><stop offset="0.0000" stop-color="#0000d3"/><stop offset="0.1614" stop-color="#0000d3"/><stop offset="0.1614" stop-color="#880099"/><stop offset="0.1839" stop-color="#880099"/><stop offset="0.1876" stop-color="#770088"/><stop offset="0.1933" stop-color="#53005f"/><stop offset="0.2004" stop-color="#210026"/><stop offset="0.2127" stop-color="#000000"/><stop offset="0.2409" stop-color="#000000"/><stop offset="0.2615" stop-color="#300036"/><stop offset="0.2858" stop-color="#51005c"/><stop offset="0.3177" stop-color="#770088"/><stop offset="0.3290" stop-color="#880099"/><stop offset="0.4639" stop-color="#880099"/><stop offset="0.4639" stop-color="#70009c"/><stop offset="0.5213" stop-color="#3600a3"/><stop offset="0.5659" stop-color="#3600a3"/><stop offset="0.5914" stop-color="#70009c"/><stop offset="0.5914" stop-color="#880099"/><stop offset="0.7443" stop-color="#880099"/><stop offset="0.7443" stop-color="#005fdd"/><stop offset="0.7522" stop-color="#005fdd"/><stop offset="0.7522" stop-color="#880099"/><stop offset="0.7582" stop-color="#880099"/><stop offset="0.7582" stop-color="#000cdd"/><stop offset="0.7694" stop-color="#000cdd"/><stop offset="0.7694" stop-color="#880099"/><stop offset="0.7694" stop-color="#0000dd"/><stop offset="0.7822" stop-color="#0000dd"/><stop offset="0.7822" stop-color="#880099"/><stop offset="0.7822" stop-color="#0000b4"/><stop offset="0.7841" stop-color="#0000b4"/><stop offset="0.7841" stop-color="#880099"/><stop offset="0.7841" stop-color="#005fdd"/><stop offset="0.7908" stop-color="#005fdd"/><stop offset="0.7908" stop-color="#880099"/><stop offset="0.7908" stop-color="#0000aa"/><stop offset="0.7968" stop-color="#0000aa"/><stop offset="0.7968" stop-color="#880099"/><stop offset="0.7968" stop-color="#0077dd"/><stop offset="0.8073" stop-color="#0077dd"/><stop offset="0.8073" stop-color="#880099"/><stop offset="0.8073" stop-color="#0000dd"/><stop offset="0.8276" stop-color="#0000dd"/><stop offset="0.8276" stop-color="#880099"/><stop offset="0.9194" stop-color="#880099"/><stop offset="0.9231" stop-color="#78009b"/><stop offset="0.9306" stop-color="#78009b"/><stop offset="0.9344" stop-color="#880099"/><stop offset="0.9813" stop-color="#880099"/><stop offset="0.9869" stop-color="#770088"/><stop offset="1.0000" stop-color="#5f006d"/></linearGradient><linearGradient id="g39" gradientUnits="userSpaceOnUse" x1="328.25" x2="595.00" y1="0" y2="0"><stop offset="0.0000" stop-color="#0005dd"/><stop offset="0.1621" stop-color="#0005dd"/><stop offset="0.1621" stop-color="#880099"/><stop offset="0.1865" stop-color="#880099"/><stop offset="0.1921" stop-color="#770088"/><stop offset="0.2015" stop-color="#3c0044"/><stop offset="0.2127" stop-color="#26002c"/><stop offset="0.2877" stop-color="#26002c"/><stop offset="0.3252" stop-color="#2c0032"/><stop offset="0.3440" stop-color="#320039"/><stop offset="0.3814" stop-color="#320039"/><stop offset="0.5003" stop-color="#320039"/><stop offset="0.5003" stop-color="#470052"/><stop offset="0.5040" stop-color="#470052"/><stop offset="0.5040" stop-color="#1a001e"/><stop offset="0.5501" stop-color="#1a001e"/><stop offset="0.5876" stop-color="#28002e"/><stop offset="0.6439" stop-color="#460050"/><stop offset="0.6907" stop-color="#5a0067"/><stop offset="0.6907" stop-color="#850096"/><stop offset="0.7413" stop-color="#850096"/><stop offset="0.7413" stop-color="#830094"/><stop offset="0.8051" stop-color="#830094"/><stop offset="0.8051" stop-color="#870098"/><stop offset="0.9100" stop-color="#880099"/><stop offset="0.9175" stop-color="#57009f"/><stop offset="0.9400" stop-color="#57009f"/><stop offset="0.9475" stop-color="#880099"/><stop offset="0.9813" stop-color="#880099"/><stop offset="0.9869" stop-color="#770088"/><stop offset="1.0000" stop-color="#5f006d"/></linearGradient><linearGradient id="g40" gradientUnits="userSpaceOnUse" x1="328.25" x2="595.00" y1="0" y2="0"><stop offset="0.0000" stop-color="#0005dd"/><stop offset="0.1621" stop-color="#0005dd"/><stop offset="0.1621" stop-color="#880099"/><stop offset="0.1865" stop-color="#880099"/><stop offset="0.1921" stop-color="#770088"/><stop offset="0.2015" stop-color="#3c0044"/><stop offset="0.2127" stop-color="#020003"/><stop offset="0.2877" stop-color="#020003"/><stop offset="0.3252" stop-color="#110013"/><stop offset="0.3440" stop-color="#1f0023"/><stop offset="0.3814" stop-color="#1f0023"/><stop offset="0.5003" stop-color="#1f0023"/><stop offset="0.5003" stop-color="#470052"/><stop offset="0.5040" stop-color="#470052"/><stop offset="0.5040" stop-color="#000000"/><stop offset="0.5501" stop-color="#000000"/><stop offset="0.5876" stop-color="#0e0010"/><stop offset="0.6439" stop-color="#43004d"/><stop offset="0.7488" stop-color="#700080"/><stop offset="0.7488" stop-color="#850096"/><stop offset="0.7526" stop-color="#850096"/><stop offset="0.7526" stop-color="#800090"/><stop offset="0.7938" stop-color="#800090"/><stop offset="0.7938" stop-color="#850096"/><stop offset="0.9166" stop-color="#880099"/><stop offset="0.9241" stop-color="#880099"/><stop offset="0.9325" stop-color="#880099"/><stop offset="0.9400" stop-color="#880099"/><stop offset="0.9813" stop-color="#880099"/><stop offset="0.9869" stop-color="#770088"/><stop offset="1.0000" stop-color="#5f006d"/></linearGradient><linearGradient id="g41" gradientUnits="userSpaceOnUse" x1="328.25" x2="595.00" y1="0" y2="0"><stop offset="0.0000" stop-color="#2900a5"/><stop offset="0.0440" stop-color="#3600a3"/><stop offset="0.0815" stop-color="#1b00a7"/><stop offset="0.1190" stop-color="#3600a3"/><stop offset="0.1565" stop-color="#2900a5"/><stop offset="0.1565" stop-color="#880099"/><stop offset="0.1753" stop-color="#880099"/><stop offset="0.1809" stop-color="#770088"/><stop offset="0.1865" stop-color="#28002e"/><stop offset="0.1978" stop-color="#1f0023"/><stop offset="0.2034" stop-color="#770088"/><stop offset="0.2071" stop-color="#880099"/><stop offset="0.2337" stop-color="#880099"/><stop offset="0.2337" stop-color="#3600a3"/><stop offset="0.2465" stop-color="#1b00a7"/><stop offset="0.2479" stop-color="#0000aa"/><stop offset="0.2551" stop-color="#0000dd"/><stop offset="0.2963" stop-color="#0000dd"/><stop offset="0.2975" stop-color="#0058dd"/><stop offset="0.3215" stop-color="#0077dd"/><stop offset="0.3440" stop-color="#007add"/><stop offset="0.3889" stop-color="#007cdd"/><stop offset="0.4377" stop-color="#0078dd"/><stop offset="0.4864" stop-color="#007cdd"/><stop offset="0.5314" stop-color="#0078dd"/><stop offset="0.5351" stop-color="#0077dd"/><stop offset="0.5689" stop-color="#004cdd"/><stop offset="0.6064" stop-color="#0013dd"/><stop offset="0.6364" stop-color="#0000dd"/><stop offset="0.6551" stop-color="#0000d8"/><stop offset="0.6926" stop-color="#0000b9"/><stop offset="0.7038" stop-color="#0000aa"/><stop offset="0.7226" stop-color="#4400a2"/><stop offset="0.7413" stop-color="#880099"/><stop offset="0.7451" stop-color="#880099"/><stop offset="0.7451" stop-color="#0000dd"/><stop offset="0.7496" stop-color="#0000dd"/><stop offset="0.7496" stop-color="#880099"/><stop offset="0.7496" stop-color="#3600a3"/><stop offset="0.7582" stop-color="#3600a3"/><stop offset="0.7582" stop-color="#880099"/><stop offset="0.7582" stop-color="#0000dd"/><stop offset="0.7631" stop-color="#0000dd"/><stop offset="0.7631" stop-color="#880099"/><stop offset="0.7631" stop-color="#3600a3"/><stop offset="0.7676" stop-color="#3600a3"/><stop offset="0.7676" stop-color="#880099"/><stop offset="0.7676" stop-color="#0000d3"/><stop offset="0.7724" stop-color="#0000d3"/><stop offset="0.7724" stop-color="#880099"/><stop offset="0.7818" stop-color="#880099"/><stop offset="0.7818" stop-color="#0000dd"/><stop offset="0.7878" stop-color="#0000dd"/><stop offset="0.7878" stop-color="#880099"/><stop offset="0.7961" stop-color="#880099"/><stop offset="0.7961" stop-color="#0018dd"/><stop offset="0.8051" stop-color="#0018dd"/><stop offset="0.8051" stop-color="#880099"/><stop offset="0.8193" stop-color="#880099"/><stop offset="0.8193" stop-color="#0000d3"/><stop offset="0.8238" stop-color="#0000d3"/><stop offset="0.8238" stop-color="#880099"/><stop offset="0.9063" stop-color="#880099"/><stop offset="0.9813" stop-color="#880099"/><stop offset="0.9869" stop-color="#770088"/><stop offset="1.0000" stop-color="#5f006d"/></linearGradient>
<clipPath id="cl"><rect x="45.75" y="28.00" width="269.25" height="367.50"/></clipPath>
<clipPath id="cr"><rect x="325.75" y="28.00" width="269.25" height="367.50"/></clipPath>
</defs>
<rect width="640" height="440" fill="#fff"/>
<rect x="48.25" y="28.00" width="266.75" height="17.70" fill="url(#g1)"/>
<rect x="48.25" y="44.70" width="266.75" height="34.41" fill="url(#g2)"/>
<rect x="48.25" y="78.11" width="266.75" height="17.70" fill="url(#g3)"/>
<rect x="48.25" y="94.82" width="266.75" height="17.70" fill="url(#g4)"/>
<rect x="48.25" y="111.52" width="266.75" height="17.70" fill="url(#g5)"/>
<rect x="48.25" y="128.23" width="266.75" height="17.70" fill="url(#g6)"/>
<rect x="48.25" y="144.93" width="266.75" height="17.70" fill="url(#g7)"/>
<rect x="48.25" y="161.64" width="266.75" height="17.70" fill="url(#g8)"/>
<rect x="48.25" y="178.34" width="266.75" height="17.70" fill="url(#g9)"/>
<rect x="48.25" y="195.05" width="266.75" height="17.70" fill="url(#g10)"/>
<rect x="48.25" y="211.75" width="266.75" height="17.70" fill="url(#g11)"/>
<rect x="48.25" y="228.45" width="266.75" height="17.70" fill="url(#g12)"/>
<rect x="48.25" y="245.16" width="266.75" height="17.70" fill="url(#g13)"/>
<rect x="48.25" y="261.86" width="266.75" height="17.70" fill="url(#g14)"/>
<rect x="48.25" y="278.57" width="266.75" height="17.70" fill="url(#g15)"/>
<rect x="48.25" y="295.27" width="266.75" height="17.70" fill="url(#g16)"/>
<rect x="48.25" y="311.98" width="266.75" height="17.70" fill="url(#g17)"/>
<rect x="48.25" y="328.68" width="266.75" height="17.70" fill="url(#g18)"/>
<rect x="48.25" y="345.39" width="266.75" height="17.70" fill="url(#g19)"/>
<rect x="48.25" y="362.09" width="266.75" height="33.41" fill="url(#g20)"/>
<rect x="328.25" y="28.00" width="266.75" height="34.41" fill="url(#g21)"/>
<rect x="328.25" y="61.41" width="266.75" height="17.70" fill="url(#g22)"/>
<rect x="328.25" y="78.11" width="266.75" height="17.70" fill="url(#g23)"/>
<rect x="328.25" y="94.82" width="266.75" height="17.70" fill="url(#g24)"/>
<rect x="328.25" y="111.52" width="266.75" height="17.70" fill="url(#g25)"/>
<rect x="328.25" y="128.23" width="266.75" height="17.70" fill="url(#g26)"/>
<rect x="328.25" y="144.93" width="266.75" height="17.70" fill="url(#g27)"/>
<rect x="328.25" y="161.64" width="266.75" height="17.70" fill="url(#g28)"/>
<rect x="328.25" y="178.34" width="266.75" height="17.70" fill="url(#g29)"/>
<rect x="328.25" y="195.05" width="266.75" height="17.70" fill="url(#g30)"/>
<rect x="328.25" y="211.75" width="266.75" height="17.70" fill="url(#g31)"/>
<rect x="328.25" y="228.45" width="266.75" height="17.70" fill="url(#g32)"/>
<rect x="328.25" y="245.16" width="266.75" height="17.70" fill="url(#g33)"/>
<rect x="328.25" y="261.86" width="266.75" height="17.70" fill="url(#g34)"/>
<rect x="328.25" y="278.57" width="266.75" height="17.70" fill="url(#g35)"/>
<rect x="328.25" y="295.27" width="266.75" height="17.70" fill="url(#g36)"/>
<rect x="328.25" y="311.98" width="266.75" height="17.70" fill="url(#g37)"/>
<rect x="328.25" y="328.68" width="266.75" height="17.70" fill="url(#g38)"/>
<rect x="328.25" y="345.39" width="266.75" height="17.70" fill="url(#g39)"/>
<rect x="328.25" y="362.09" width="266.75" height="17.70" fill="url(#g40)"/>
<rect x="328.25" y="378.80" width="266.75" height="16.70" fill="url(#g41)"/>
<rect x="48.1" y="95" width="0.9" height="75" fill="#10b040"/>
<rect x="48.1" y="28" width="0.7" height="67" fill="#1080c0"/>
<rect x="48.1" y="250" width="0.8" height="145.5" fill="#10a070"/>
<rect x="328.1" y="28" width="1.3" height="110.5" fill="#22ee22"/>
<rect x="328.1" y="257" width="1.3" height="138.5" fill="#22ee22"/>
<rect x="48.3" y="35.90" width="1.2" height="0.9" fill="#fff" opacity=".8"/>
<rect x="48.3" y="52.61" width="1.2" height="0.9" fill="#fff" opacity=".8"/>
<rect x="48.3" y="69.31" width="1.2" height="0.9" fill="#fff" opacity=".8"/>
<rect x="48.3" y="86.02" width="1.2" height="0.9" fill="#fff" opacity=".8"/>
<rect x="48.3" y="102.72" width="1.2" height="0.9" fill="#fff" opacity=".8"/>
<rect x="48.3" y="119.42" width="1.2" height="0.9" fill="#fff" opacity=".8"/>
<rect x="48.3" y="136.13" width="1.2" height="0.9" fill="#fff" opacity=".8"/>
<rect x="48.3" y="152.83" width="1.2" height="0.9" fill="#fff" opacity=".8"/>
<rect x="48.3" y="169.54" width="1.2" height="0.9" fill="#fff" opacity=".8"/>
<rect x="48.3" y="186.24" width="1.2" height="0.9" fill="#fff" opacity=".8"/>
<rect x="48.3" y="202.95" width="1.2" height="0.9" fill="#fff" opacity=".8"/>
<rect x="48.3" y="219.65" width="1.2" height="0.9" fill="#fff" opacity=".8"/>
<rect x="48.3" y="236.36" width="1.2" height="0.9" fill="#fff" opacity=".8"/>
<rect x="48.3" y="253.06" width="1.2" height="0.9" fill="#fff" opacity=".8"/>
<rect x="48.3" y="269.77" width="1.2" height="0.9" fill="#fff" opacity=".8"/>
<rect x="48.3" y="286.47" width="1.2" height="0.9" fill="#fff" opacity=".8"/>
<rect x="48.3" y="303.18" width="1.2" height="0.9" fill="#fff" opacity=".8"/>
<rect x="48.3" y="319.88" width="1.2" height="0.9" fill="#fff" opacity=".8"/>
<rect x="48.3" y="336.58" width="1.2" height="0.9" fill="#fff" opacity=".8"/>
<rect x="48.3" y="353.29" width="1.2" height="0.9" fill="#fff" opacity=".8"/>
<rect x="48.3" y="369.99" width="1.2" height="0.9" fill="#fff" opacity=".8"/>
<rect x="48.3" y="386.70" width="1.2" height="0.9" fill="#fff" opacity=".8"/>
<text x="32.2" y="42.05" font-size="13.9" text-anchor="end" fill="#000">On</text>
<text x="612.3" y="42.05" font-size="13.9" text-anchor="start" fill="#000">On</text>
<text x="32.2" y="58.76" font-size="13.9" text-anchor="end" fill="#000">Y</text>
<text x="612.3" y="58.76" font-size="13.9" text-anchor="start" fill="#000">Y</text>
<text x="32.2" y="75.46" font-size="13.9" text-anchor="end" fill="#000">Off</text>
<text x="612.3" y="75.46" font-size="13.9" text-anchor="start" fill="#000">Off</text>
<text x="32.2" y="92.17" font-size="13.9" text-anchor="end" fill="#000">P</text>
<text x="612.3" y="92.17" font-size="13.9" text-anchor="start" fill="#000">P</text>
<text x="32.2" y="108.87" font-size="13.9" text-anchor="end" fill="#000">O</text>
<text x="612.3" y="108.87" font-size="13.9" text-anchor="start" fill="#000">O</text>
<text x="32.2" y="125.58" font-size="13.9" text-anchor="end" fill="#000">N</text>
<text x="612.3" y="125.58" font-size="13.9" text-anchor="start" fill="#000">N</text>
<text x="32.2" y="142.28" font-size="13.9" text-anchor="end" fill="#000">M</text>
<text x="612.3" y="142.28" font-size="13.9" text-anchor="start" fill="#000">M</text>
<text x="32.2" y="158.98" font-size="13.9" text-anchor="end" fill="#000">L</text>
<text x="612.3" y="158.98" font-size="13.9" text-anchor="start" fill="#000">L</text>
<text x="32.2" y="175.69" font-size="13.9" text-anchor="end" fill="#000">K</text>
<text x="612.3" y="175.69" font-size="13.9" text-anchor="start" fill="#000">K</text>
<text x="32.2" y="192.39" font-size="13.9" text-anchor="end" fill="#000">J</text>
<text x="612.3" y="192.39" font-size="13.9" text-anchor="start" fill="#000">J</text>
<text x="32.2" y="209.10" font-size="13.9" text-anchor="end" fill="#000">I</text>
<text x="612.3" y="209.10" font-size="13.9" text-anchor="start" fill="#000">I</text>
<text x="32.2" y="225.80" font-size="13.9" text-anchor="end" fill="#000">H</text>
<text x="612.3" y="225.80" font-size="13.9" text-anchor="start" fill="#000">H</text>
<text x="32.2" y="242.51" font-size="13.9" text-anchor="end" fill="#000">G</text>
<text x="612.3" y="242.51" font-size="13.9" text-anchor="start" fill="#000">G</text>
<text x="32.2" y="259.21" font-size="13.9" text-anchor="end" fill="#000">F</text>
<text x="612.3" y="259.21" font-size="13.9" text-anchor="start" fill="#000">F</text>
<text x="32.2" y="275.92" font-size="13.9" text-anchor="end" fill="#000">E</text>
<text x="612.3" y="275.92" font-size="13.9" text-anchor="start" fill="#000">E</text>
<text x="32.2" y="292.62" font-size="13.9" text-anchor="end" fill="#000">D</text>
<text x="612.3" y="292.62" font-size="13.9" text-anchor="start" fill="#000">D</text>
<text x="32.2" y="309.32" font-size="13.9" text-anchor="end" fill="#000">C</text>
<text x="612.3" y="309.32" font-size="13.9" text-anchor="start" fill="#000">C</text>
<text x="32.2" y="326.03" font-size="13.9" text-anchor="end" fill="#000">B</text>
<text x="612.3" y="326.03" font-size="13.9" text-anchor="start" fill="#000">B</text>
<text x="32.2" y="342.73" font-size="13.9" text-anchor="end" fill="#000">A</text>
<text x="612.3" y="342.73" font-size="13.9" text-anchor="start" fill="#000">A</text>
<text x="32.2" y="359.44" font-size="13.9" text-anchor="end" fill="#000">Off</text>
<text x="612.3" y="359.44" font-size="13.9" text-anchor="start" fill="#000">Off</text>
<text x="32.2" y="376.14" font-size="13.9" text-anchor="end" fill="#000">X</text>
<text x="612.3" y="376.14" font-size="13.9" text-anchor="start" fill="#000">X</text>
<text x="32.2" y="392.85" font-size="13.9" text-anchor="end" fill="#000">On</text>
<text x="612.3" y="392.85" font-size="13.9" text-anchor="start" fill="#000">On</text>
<text transform="translate(3.2,218.5) rotate(-90)" font-size="13.9" text-anchor="middle" textLength="42" lengthAdjust="spacingAndGlyphs" fill="#000">Dipole</text>
<text x="181.7" y="15.8" font-size="17" text-anchor="middle" textLength="192.6" lengthAdjust="spacingAndGlyphs" fill="#000">28.5 (HexS17=1053) X</text>
<text x="461.3" y="15.8" font-size="17" text-anchor="middle" textLength="191.5" lengthAdjust="spacingAndGlyphs" fill="#000">28.5 (HexS17=1053) Y</text>
<rect x="48.80" y="408.2" width="1.1" height="5.3" fill="#000"/>
<text x="49.35" y="426.0" font-size="11.3" text-anchor="middle" textLength="5.8" lengthAdjust="spacingAndGlyphs" fill="#111">0</text>
<rect x="89.48" y="408.2" width="1.1" height="5.3" fill="#000"/>
<text x="90.03" y="426.0" font-size="11.3" text-anchor="middle" textLength="11.4" lengthAdjust="spacingAndGlyphs" fill="#111">50</text>
<rect x="130.16" y="408.2" width="1.1" height="5.3" fill="#000"/>
<text x="130.71" y="426.0" font-size="11.3" text-anchor="middle" textLength="16.9" lengthAdjust="spacingAndGlyphs" fill="#111">100</text>
<rect x="170.84" y="408.2" width="1.1" height="5.3" fill="#000"/>
<text x="171.39" y="426.0" font-size="11.3" text-anchor="middle" textLength="16.9" lengthAdjust="spacingAndGlyphs" fill="#111">150</text>
<rect x="211.52" y="408.2" width="1.1" height="5.3" fill="#000"/>
<text x="212.07" y="426.0" font-size="11.3" text-anchor="middle" textLength="16.9" lengthAdjust="spacingAndGlyphs" fill="#111">200</text>
<rect x="252.20" y="408.2" width="1.1" height="5.3" fill="#000"/>
<text x="252.75" y="426.0" font-size="11.3" text-anchor="middle" textLength="16.9" lengthAdjust="spacingAndGlyphs" fill="#111">250</text>
<rect x="292.88" y="408.2" width="1.1" height="5.3" fill="#000"/>
<text x="293.43" y="426.0" font-size="11.3" text-anchor="middle" textLength="16.9" lengthAdjust="spacingAndGlyphs" fill="#111">300</text>
<rect x="328.80" y="408.2" width="1.1" height="5.3" fill="#000"/>
<text x="329.35" y="426.0" font-size="11.3" text-anchor="middle" textLength="5.8" lengthAdjust="spacingAndGlyphs" fill="#111">0</text>
<rect x="369.48" y="408.2" width="1.1" height="5.3" fill="#000"/>
<text x="370.03" y="426.0" font-size="11.3" text-anchor="middle" textLength="11.4" lengthAdjust="spacingAndGlyphs" fill="#111">50</text>
<rect x="410.16" y="408.2" width="1.1" height="5.3" fill="#000"/>
<text x="410.71" y="426.0" font-size="11.3" text-anchor="middle" textLength="16.9" lengthAdjust="spacingAndGlyphs" fill="#111">100</text>
<rect x="450.84" y="408.2" width="1.1" height="5.3" fill="#000"/>
<text x="451.39" y="426.0" font-size="11.3" text-anchor="middle" textLength="16.9" lengthAdjust="spacingAndGlyphs" fill="#111">150</text>
<rect x="491.52" y="408.2" width="1.1" height="5.3" fill="#000"/>
<text x="492.07" y="426.0" font-size="11.3" text-anchor="middle" textLength="16.9" lengthAdjust="spacingAndGlyphs" fill="#111">200</text>
<rect x="532.20" y="408.2" width="1.1" height="5.3" fill="#000"/>
<text x="532.75" y="426.0" font-size="11.3" text-anchor="middle" textLength="16.9" lengthAdjust="spacingAndGlyphs" fill="#111">250</text>
<rect x="572.88" y="408.2" width="1.1" height="5.3" fill="#000"/>
<text x="573.43" y="426.0" font-size="11.3" text-anchor="middle" textLength="16.9" lengthAdjust="spacingAndGlyphs" fill="#111">300</text>
<rect x="69.70" y="43.05" width="5.2" height="1.3" fill="#fff"/>
<text x="79.00" y="48.70" font-size="13.9" text-anchor="start" textLength="16.6" lengthAdjust="spacingAndGlyphs" fill="#fff">25</text>
<rect x="69.70" y="90.97" width="5.2" height="1.3" fill="#fff"/>
<text x="79.00" y="96.62" font-size="13.9" text-anchor="start" textLength="16.6" lengthAdjust="spacingAndGlyphs" fill="#fff">20</text>
<rect x="69.70" y="138.89" width="5.2" height="1.3" fill="#fff"/>
<text x="79.00" y="144.54" font-size="13.9" text-anchor="start" textLength="16.6" lengthAdjust="spacingAndGlyphs" fill="#fff">15</text>
<rect x="69.70" y="186.81" width="5.2" height="1.3" fill="#fff"/>
<text x="79.00" y="192.46" font-size="13.9" text-anchor="start" textLength="16.6" lengthAdjust="spacingAndGlyphs" fill="#fff">10</text>
<rect x="69.70" y="234.73" width="5.2" height="1.3" fill="#fff"/>
<text x="79.00" y="240.38" font-size="13.9" text-anchor="start" textLength="8.0" lengthAdjust="spacingAndGlyphs" fill="#fff">5</text>
<rect x="69.70" y="282.65" width="5.2" height="1.3" fill="#fff"/>
<text x="79.00" y="288.30" font-size="13.9" text-anchor="start" textLength="8.0" lengthAdjust="spacingAndGlyphs" fill="#fff">0</text>
<rect x="349.70" y="43.05" width="5.2" height="1.3" fill="#fff"/>
<text x="359.00" y="48.70" font-size="13.9" text-anchor="start" textLength="16.6" lengthAdjust="spacingAndGlyphs" fill="#fff">25</text>
<text x="317.60" y="48.70" font-size="13.9" text-anchor="end" textLength="16.6" lengthAdjust="spacingAndGlyphs" fill="#fff">25</text>
<rect x="349.70" y="90.97" width="5.2" height="1.3" fill="#fff"/>
<text x="359.00" y="96.62" font-size="13.9" text-anchor="start" textLength="16.6" lengthAdjust="spacingAndGlyphs" fill="#fff">20</text>
<text x="317.60" y="96.62" font-size="13.9" text-anchor="end" textLength="16.6" lengthAdjust="spacingAndGlyphs" fill="#fff">20</text>
<rect x="349.70" y="138.89" width="5.2" height="1.3" fill="#fff"/>
<text x="359.00" y="144.54" font-size="13.9" text-anchor="start" textLength="16.6" lengthAdjust="spacingAndGlyphs" fill="#fff">15</text>
<text x="317.60" y="144.54" font-size="13.9" text-anchor="end" textLength="16.6" lengthAdjust="spacingAndGlyphs" fill="#fff">15</text>
<rect x="349.70" y="186.81" width="5.2" height="1.3" fill="#fff"/>
<text x="359.00" y="192.46" font-size="13.9" text-anchor="start" textLength="16.6" lengthAdjust="spacingAndGlyphs" fill="#fff">10</text>
<text x="317.60" y="192.46" font-size="13.9" text-anchor="end" textLength="16.6" lengthAdjust="spacingAndGlyphs" fill="#fff">10</text>
<rect x="349.70" y="234.73" width="5.2" height="1.3" fill="#fff"/>
<text x="359.00" y="240.38" font-size="13.9" text-anchor="start" textLength="8.0" lengthAdjust="spacingAndGlyphs" fill="#fff">5</text>
<text x="317.60" y="240.38" font-size="13.9" text-anchor="end" textLength="8.0" lengthAdjust="spacingAndGlyphs" fill="#fff">5</text>
<rect x="349.70" y="282.65" width="5.2" height="1.3" fill="#fff"/>
<text x="359.00" y="288.30" font-size="13.9" text-anchor="start" textLength="8.0" lengthAdjust="spacingAndGlyphs" fill="#fff">0</text>
<text x="317.60" y="288.30" font-size="13.9" text-anchor="end" textLength="8.0" lengthAdjust="spacingAndGlyphs" fill="#fff">0</text>
<g clip-path="url(#cl)">
<polygon points="47,168 49.3,170 51.3,244 51.3,251 47,251" fill="#fff"/>
<polyline points="46.0,249.0 87.0,249.0 89.5,252.0 92.0,262.0 95.0,277.0 98.0,288.0 102.0,295.0 107.0,297.7 112.0,296.5 120.0,293.0 130.0,287.0 140.0,282.0 150.0,275.5 157.5,271.5 163.0,270.0 166.0,270.0 171.0,268.5 179.0,266.0 183.0,265.5 186.8,264.2 191.0,266.0 197.5,269.0 207.7,274.8 218.0,279.3 226.0,281.0 235.0,280.3 245.5,279.3" fill="none" stroke="#fff" stroke-linejoin="round" stroke-linecap="round" stroke-width="4.8"/>
<polygon points="150.0,273.2 157.5,268.8 163.0,267.0 171.0,264.5 179.0,262.3 183.0,261.7 186.8,260.6 191.0,262.2 197.5,265.2 207.7,271.3 218.0,276.4 226.0,278.7 226.0,283.3 218.0,282.2 207.7,278.3 197.5,273.2 191.0,270.2 186.8,268.6 183.0,269.7 179.0,270.3 171.0,272.5 163.0,274.0 157.5,274.6 150.0,277.8" fill="#fff"/>
<polyline points="151.3,275.0 151.3,257.6" fill="none" stroke="#fff" stroke-linejoin="round" stroke-linecap="round" stroke-width="2.3"/>
<polyline points="160.3,272.0 160.3,260.3" fill="none" stroke="#fff" stroke-linejoin="round" stroke-linecap="round" stroke-width="3.4"/>
<polyline points="245.5,279.3 246.7,278.0 247.7,223.3 248.6,270.0 249.2,281.0 249.9,270.0 251.8,240.3 253.3,258.0 254.2,279.0 255.2,258.0 256.5,262.0 257.9,222.3 258.8,250.0 259.3,281.0 260.2,236.0 261.0,282.0 261.5,250.0 262.3,223.8 263.5,262.0 264.7,273.0 266.0,270.0 267.3,253.4 268.5,270.0 269.8,275.4" fill="none" stroke="#fff" stroke-linejoin="round" stroke-linecap="round" stroke-width="2.6"/>
<polyline points="269.8,275.4 276.0,275.0 286.0,273.4 291.2,269.3 295.5,264.2 300.4,273.4 306.6,283.6 311.7,289.3 316.0,291.8" fill="none" stroke="#fff" stroke-linejoin="round" stroke-linecap="round" stroke-width="3.4"/>
<polygon points="250,258 255,256 262,256 264,262 264,279 250,279" fill="#fff"/>
</g>
<g clip-path="url(#cr)">
<polygon points="327,138 329.4,138.5 331.6,252 331.6,259 327,259" fill="#fff"/>
<polyline points="326.0,257.0 369.0,257.0 370.5,259.0 372.5,272.5 376.2,288.8 381.0,297.5 387.5,300.0 392.0,299.0 397.5,296.0 410.0,288.8 422.5,282.0 430.0,277.5 435.0,274.5 440.7,272.5 447.5,271.0 453.0,268.5 460.0,267.5 467.5,265.3 472.0,268.0 477.5,271.0 485.0,276.0 497.5,282.5 510.0,284.5 520.0,283.8 526.5,283.5" fill="none" stroke="#fff" stroke-linejoin="round" stroke-linecap="round" stroke-width="4.6"/>
<polygon points="422.5,279.8 430.0,274.6 435.0,271.0 440.7,268.3 447.5,266.8 453.0,264.5 460.0,263.3 467.5,261.4 472.0,263.8 477.5,266.8 485.0,272.5 497.5,279.6 505.0,281.8 505.0,286.2 497.5,285.4 485.0,279.5 477.5,275.2 472.0,272.2 467.5,269.8 460.0,271.7 453.0,272.9 447.5,275.2 440.7,276.7 435.0,278.0 430.0,280.4 422.5,284.2" fill="#fff"/>
<polyline points="432.0,277.0 432.0,253.2" fill="none" stroke="#fff" stroke-linejoin="round" stroke-linecap="round" stroke-width="2.2"/>
<polyline points="437.2,275.0 437.2,194.8" fill="none" stroke="#fff" stroke-linejoin="round" stroke-linecap="round" stroke-width="2.7"/>
<polyline points="441.5,273.0 441.5,257.0" fill="none" stroke="#fff" stroke-linejoin="round" stroke-linecap="round" stroke-width="2.2"/>
<polyline points="526.5,283.5 527.2,284.0 528.0,210.0 529.0,250.0 529.6,284.0 530.4,250.0 531.5,222.0 532.5,213.8 533.6,240.0 534.6,262.0 535.5,232.0 536.2,274.0 537.4,236.0 538.8,216.0 539.6,276.0 540.5,240.0 541.5,203.8 542.8,240.0 544.0,256.0 545.0,241.0 546.2,258.0 547.2,236.0 548.0,231.0 548.8,262.0 550.0,281.0" fill="none" stroke="#fff" stroke-linejoin="round" stroke-linecap="round" stroke-width="2.6"/>
<polyline points="550.0,281.0 555.0,281.0 560.0,282.0 566.0,280.0 570.0,277.5 575.8,271.2 582.5,281.2 590.0,288.8 596.0,291.5" fill="none" stroke="#fff" stroke-linejoin="round" stroke-linecap="round" stroke-width="3.4"/>
<polygon points="527.5,229 533,226 542,226 545,240 548.5,240 548.5,256 544,258 527.5,258" fill="#fff"/>
</g>
</svg>
</body></html>
